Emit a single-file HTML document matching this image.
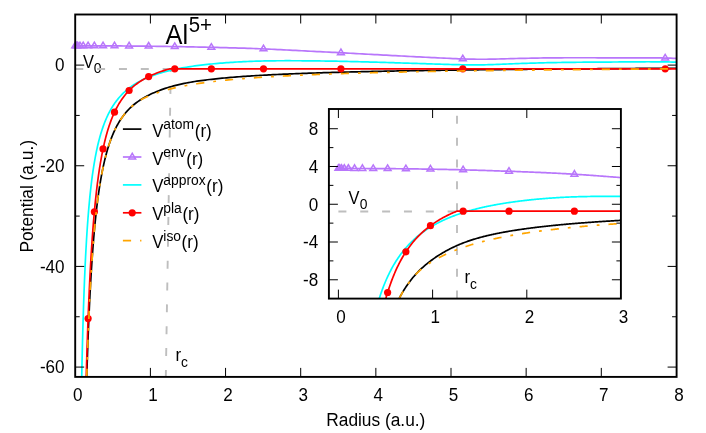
<!DOCTYPE html><html><head><meta charset="utf-8"><style>html,body{margin:0;padding:0;background:#fff}svg{display:block;will-change:transform}text{font-family:"Liberation Sans",sans-serif;fill:#000}</style></head><body>
<svg width="706" height="433" viewBox="0 0 706 433">
<rect width="100%" height="100%" fill="#fff"/>
<defs><clipPath id="cm"><rect x="75.20" y="14.50" width="601.40" height="362.40"/></clipPath><clipPath id="ci"><rect x="328.90" y="109.00" width="292.00" height="189.60"/></clipPath></defs>
<text transform="translate(83.00,67.70) scale(0.950,1.078)" font-size="17.33" text-anchor="start">V</text>
<text transform="translate(93.65,73.20) scale(1.000,1.060)" font-size="13.86" text-anchor="start">0</text>
<text transform="translate(175.40,361.00) scale(0.980,1.078)" font-size="17.33" text-anchor="start">r</text>
<text transform="translate(180.90,366.70) scale(1.000,1.060)" font-size="13.86" text-anchor="start">c</text>
<g clip-path="url(#cm)" fill="none" stroke-linejoin="round"><path d="M75.25,68.97 L169.94,68.97" stroke="#bebebe" stroke-width="1.9" stroke-dasharray="8 13.85"/><path d="M165.80,377.90 L170.80,68.82" stroke="#bebebe" stroke-width="1.9" stroke-dasharray="8 13.85"/></g>
<g clip-path="url(#cm)" fill="none" stroke-linejoin="round"><path d="M79.54,1060.06 L79.61,1042.69 L79.67,1025.59 L79.74,1008.78 L79.82,992.23 L79.89,975.96 L79.96,959.95 L80.03,944.20 L80.11,928.70 L80.19,913.46 L80.26,898.47 L80.34,883.72 L80.42,869.21 L80.51,854.94 L80.59,840.91 L80.67,827.10 L80.76,813.52 L80.85,800.17 L80.93,787.03 L81.02,774.11 L81.11,761.41 L81.21,748.91 L81.30,736.62 L81.40,724.54 L81.49,712.66 L81.59,700.97 L81.69,689.48 L81.79,678.18 L81.90,667.07 L82.00,656.14 L82.11,645.40 L82.22,634.84 L82.33,624.45 L82.44,614.24 L82.55,604.20 L82.67,594.33 L82.78,584.63 L82.90,575.10 L83.02,565.72 L83.14,556.50 L83.27,547.45 L83.40,538.54 L83.52,529.79 L83.65,521.19 L83.79,512.73 L83.92,504.42 L84.06,496.25 L84.20,488.23 L84.34,480.34 L84.48,472.59 L84.63,464.97 L84.78,457.49 L84.93,450.13 L85.08,442.91 L85.23,435.81 L85.39,428.83 L85.55,421.98 L85.71,415.25 L85.88,408.63 L86.05,402.13 L86.22,395.75 L86.39,389.48 L86.56,383.32 L86.74,377.27 L86.92,371.33 L87.11,365.50 L87.30,359.76 L87.49,354.14 L87.68,348.61 L87.87,343.18 L88.07,337.85 L88.28,332.61 L88.48,327.47 L88.69,322.43 L88.90,317.47 L89.12,312.61 L89.34,307.83 L89.56,303.14 L89.78,298.54 L90.01,294.02 L90.25,289.58 L90.48,285.23 L90.72,280.95 L90.97,276.76 L91.21,272.64 L91.47,268.60 L91.72,264.63 L91.98,260.74 L92.24,256.92 L92.51,253.17 L92.79,249.49 L93.06,245.88 L93.34,242.34 L93.63,238.86 L93.92,235.45 L94.21,232.10 L94.51,228.82 L94.82,225.60 L95.12,222.44 L95.44,219.34 L95.76,216.29 L96.08,213.31 L96.41,210.38 L96.74,207.51 L97.08,204.69 L97.42,201.93 L97.77,199.22 L98.13,196.56 L98.49,193.96 L98.86,191.40 L99.23,188.89 L99.61,186.43 L99.99,184.02 L100.38,181.66 L100.78,179.34 L101.18,177.06 L101.59,174.83 L102.00,172.64 L102.43,170.50 L102.86,168.40 L103.29,166.34 L103.73,164.31 L104.18,162.33 L104.64,160.39 L105.10,158.49 L105.57,156.62 L106.05,154.79 L106.54,153.00 L107.03,151.24 L107.53,149.51 L108.04,147.83 L108.56,146.17 L109.08,144.55 L109.62,142.96 L110.16,141.40 L110.71,139.87 L111.27,138.38 L111.84,136.91 L112.41,135.48 L113.00,134.07 L113.59,132.70 L114.20,131.35 L114.81,130.03 L115.44,128.73 L116.07,127.47 L116.72,126.23 L117.37,125.01 L118.03,123.82 L118.71,122.66 L119.39,121.52 L120.09,120.40 L120.80,119.31 L121.52,118.25 L122.25,117.20 L122.99,116.18 L123.74,115.18 L124.50,114.20 L125.28,113.24 L126.07,112.31 L126.87,111.39 L127.69,110.50 L128.51,109.62 L129.35,108.77 L130.21,107.93 L131.07,107.11 L131.95,106.31 L132.85,105.52 L133.76,104.76 L134.68,104.01 L135.62,103.27 L136.57,102.55 L137.53,101.85 L138.52,101.16 L139.51,100.48 L140.53,99.81 L141.56,99.16 L142.60,98.52 L143.67,97.89 L144.74,97.28 L145.84,96.67 L146.95,96.07 L148.08,95.49 L149.23,94.91 L150.40,94.34 L152.51,93.35 L154.63,92.41 L156.74,91.52 L158.85,90.68 L160.96,89.88 L163.08,89.12 L165.19,88.39 L167.30,87.71 L169.41,87.06 L171.53,86.45 L173.64,85.87 L175.75,85.32 L177.86,84.80 L179.98,84.31 L182.09,83.85 L184.20,83.41 L186.32,83.00 L188.43,82.60 L190.54,82.23 L192.65,81.87 L194.77,81.53 L196.88,81.21 L198.99,80.90 L201.10,80.61 L203.22,80.32 L205.33,80.05 L207.44,79.78 L209.55,79.53 L211.67,79.29 L213.78,79.05 L215.89,78.83 L218.00,78.61 L220.12,78.40 L222.23,78.19 L224.34,77.99 L226.46,77.80 L228.57,77.62 L230.68,77.43 L232.79,77.26 L234.91,77.09 L237.02,76.93 L239.13,76.77 L241.24,76.61 L243.36,76.46 L245.47,76.31 L247.58,76.17 L249.69,76.03 L251.81,75.89 L253.92,75.76 L256.03,75.63 L258.15,75.51 L260.26,75.38 L262.37,75.26 L264.48,75.15 L266.60,75.03 L268.71,74.92 L270.82,74.81 L272.93,74.71 L275.05,74.60 L277.16,74.50 L279.27,74.40 L281.38,74.30 L283.50,74.21 L285.61,74.12 L287.72,74.03 L289.83,73.94 L291.95,73.85 L294.06,73.76 L296.17,73.68 L298.29,73.60 L300.40,73.52 L302.51,73.44 L304.62,73.36 L306.74,73.28 L308.85,73.21 L310.96,73.13 L313.07,73.06 L315.19,72.99 L317.30,72.92 L319.41,72.85 L321.52,72.79 L323.64,72.72 L325.75,72.66 L327.86,72.59 L329.98,72.53 L332.09,72.47 L334.20,72.41 L336.31,72.35 L338.43,72.29 L340.54,72.23 L342.65,72.18 L344.76,72.12 L346.88,72.07 L348.99,72.01 L351.10,71.96 L353.21,71.91 L355.33,71.86 L357.44,71.80 L359.55,71.75 L361.67,71.71 L363.78,71.66 L365.89,71.61 L368.00,71.56 L370.12,71.52 L372.23,71.47 L374.34,71.42 L376.45,71.38 L378.57,71.34 L380.68,71.29 L382.79,71.25 L384.90,71.21 L387.02,71.17 L389.13,71.13 L391.24,71.09 L393.35,71.05 L395.47,71.01 L397.58,70.97 L399.69,70.93 L401.81,70.89 L403.92,70.85 L406.03,70.82 L408.14,70.78 L410.26,70.75 L412.37,70.71 L414.48,70.68 L416.59,70.64 L418.71,70.61 L420.82,70.57 L422.93,70.54 L425.04,70.51 L427.16,70.47 L429.27,70.44 L431.38,70.41 L433.50,70.38 L435.61,70.35 L437.72,70.32 L439.83,70.29 L441.95,70.26 L444.06,70.23 L446.17,70.20 L448.28,70.17 L450.40,70.14 L452.51,70.11 L454.62,70.09 L456.73,70.06 L458.85,70.03 L460.96,70.00 L463.07,69.98 L465.18,69.95 L467.30,69.92 L469.41,69.90 L471.52,69.87 L473.64,69.85 L475.75,69.82 L477.86,69.80 L479.97,69.77 L482.09,69.75 L484.20,69.72 L486.31,69.70 L488.42,69.68 L490.54,69.65 L492.65,69.63 L494.76,69.61 L496.87,69.59 L498.99,69.56 L501.10,69.54 L503.21,69.52 L505.33,69.50 L507.44,69.48 L509.55,69.45 L511.66,69.43 L513.78,69.41 L515.89,69.39 L518.00,69.37 L520.11,69.35 L522.23,69.33 L524.34,69.31 L526.45,69.29 L528.56,69.27 L530.68,69.25 L532.79,69.23 L534.90,69.21 L537.02,69.20 L539.13,69.18 L541.24,69.16 L543.35,69.14 L545.47,69.12 L547.58,69.10 L549.69,69.09 L551.80,69.07 L553.92,69.05 L556.03,69.03 L558.14,69.02 L560.25,69.00 L562.37,68.98 L564.48,68.97 L566.59,68.95 L568.70,68.93 L570.82,68.92 L572.93,68.90 L575.04,68.88 L577.16,68.87 L579.27,68.85 L581.38,68.84 L583.49,68.82 L585.61,68.81 L587.72,68.79 L589.83,68.78 L591.94,68.76 L594.06,68.75 L596.17,68.73 L598.28,68.72 L600.39,68.70 L602.51,68.69 L604.62,68.67 L606.73,68.66 L608.85,68.64 L610.96,68.63 L613.07,68.62 L615.18,68.60 L617.30,68.59 L619.41,68.58 L621.52,68.56 L623.63,68.55 L625.75,68.54 L627.86,68.52 L629.97,68.51 L632.08,68.50 L634.20,68.48 L636.31,68.47 L638.42,68.46 L640.53,68.45 L642.65,68.43 L644.76,68.42 L646.87,68.41 L648.99,68.40 L651.10,68.38 L653.21,68.37 L655.32,68.36 L657.44,68.35 L659.55,68.34 L661.66,68.32 L663.77,68.31 L665.89,68.30 L668.00,68.29 L670.11,68.28 L672.22,68.27 L674.34,68.26 L676.45,68.25" stroke="#000" stroke-width="1.70"/></g>
<g clip-path="url(#cm)" fill="none" stroke-linejoin="round"><path d="M75.25,45.82 L78.27,45.83 L81.29,45.83 L84.31,45.84 L87.33,45.84 L90.36,45.85 L93.38,45.85 L96.40,45.86 L99.42,45.87 L102.44,45.88 L105.46,45.89 L108.48,45.90 L111.50,45.92 L114.52,45.93 L117.55,45.95 L120.57,45.97 L123.59,45.99 L126.61,46.01 L129.63,46.03 L132.65,46.05 L135.67,46.08 L138.69,46.10 L141.71,46.13 L144.74,46.16 L147.76,46.20 L150.78,46.23 L153.80,46.27 L156.82,46.31 L159.84,46.35 L162.86,46.39 L165.88,46.43 L168.90,46.48 L171.93,46.53 L174.95,46.58 L177.97,46.63 L180.99,46.69 L184.01,46.75 L187.03,46.81 L190.05,46.87 L193.07,46.93 L196.09,46.99 L199.12,47.06 L202.14,47.12 L205.16,47.19 L208.18,47.26 L211.20,47.33 L214.22,47.40 L217.24,47.47 L220.26,47.55 L223.28,47.62 L226.31,47.70 L229.33,47.78 L232.35,47.86 L235.37,47.95 L238.39,48.03 L241.41,48.12 L244.43,48.22 L247.45,48.32 L250.47,48.42 L253.50,48.52 L256.52,48.63 L259.54,48.75 L262.56,48.87 L265.58,49.00 L268.60,49.13 L271.62,49.26 L274.64,49.40 L277.66,49.55 L280.69,49.69 L283.71,49.84 L286.73,49.99 L289.75,50.14 L292.77,50.30 L295.79,50.45 L298.81,50.61 L301.83,50.76 L304.85,50.92 L307.88,51.07 L310.90,51.23 L313.92,51.38 L316.94,51.53 L319.96,51.69 L322.98,51.84 L326.00,52.00 L329.02,52.15 L332.04,52.31 L335.07,52.46 L338.09,52.62 L341.11,52.78 L344.13,52.94 L347.15,53.10 L350.17,53.26 L353.19,53.42 L356.21,53.58 L359.23,53.74 L362.26,53.91 L365.28,54.07 L368.30,54.23 L371.32,54.39 L374.34,54.56 L377.36,54.72 L380.38,54.88 L383.40,55.05 L386.42,55.21 L389.44,55.37 L392.47,55.53 L395.49,55.70 L398.51,55.86 L401.53,56.02 L404.55,56.18 L407.57,56.33 L410.59,56.49 L413.61,56.65 L416.63,56.80 L419.66,56.96 L422.68,57.11 L425.70,57.26 L428.72,57.41 L431.74,57.56 L434.76,57.70 L437.78,57.85 L440.80,57.99 L443.82,58.13 L446.85,58.27 L449.87,58.41 L452.89,58.54 L455.91,58.67 L458.93,58.79 L461.95,58.91 L464.97,59.01 L467.99,59.10 L471.01,59.17 L474.04,59.22 L477.06,59.25 L480.08,59.26 L483.10,59.25 L486.12,59.23 L489.14,59.19 L492.16,59.14 L495.18,59.08 L498.20,59.01 L501.23,58.94 L504.25,58.86 L507.27,58.77 L510.29,58.69 L513.31,58.60 L516.33,58.52 L519.35,58.44 L522.37,58.36 L525.39,58.29 L528.42,58.23 L531.44,58.17 L534.46,58.11 L537.48,58.06 L540.50,58.01 L543.52,57.97 L546.54,57.93 L549.56,57.89 L552.58,57.86 L555.61,57.83 L558.63,57.81 L561.65,57.79 L564.67,57.77 L567.69,57.76 L570.71,57.75 L573.73,57.75 L576.75,57.74 L579.77,57.74 L582.80,57.75 L585.82,57.75 L588.84,57.76 L591.86,57.76 L594.88,57.77 L597.90,57.78 L600.92,57.78 L603.94,57.79 L606.96,57.80 L609.99,57.80 L613.01,57.80 L616.03,57.80 L619.05,57.80 L622.07,57.80 L625.09,57.79 L628.11,57.79 L631.13,57.78 L634.15,57.78 L637.18,57.78 L640.20,57.78 L643.22,57.79 L646.24,57.80 L649.26,57.82 L652.28,57.85 L655.30,57.88 L658.32,57.92 L661.34,57.97 L664.37,58.04 L667.39,58.11 L670.41,58.19 L673.43,58.29 L676.45,58.41" stroke="#b876fb" stroke-width="1.70"/></g>
<path d="M75.25,42.12 L71.85,47.72 L78.65,47.72 Z" fill="none" stroke="#b876fb" stroke-width="1.5" stroke-linejoin="miter"/>
<path d="M76.30,42.12 L72.90,47.72 L79.70,47.72 Z" fill="none" stroke="#b876fb" stroke-width="1.5" stroke-linejoin="miter"/>
<path d="M77.73,42.13 L74.33,47.73 L81.13,47.73 Z" fill="none" stroke="#b876fb" stroke-width="1.5" stroke-linejoin="miter"/>
<path d="M79.98,42.13 L76.58,47.73 L83.38,47.73 Z" fill="none" stroke="#b876fb" stroke-width="1.5" stroke-linejoin="miter"/>
<path d="M83.22,42.13 L79.82,47.73 L86.62,47.73 Z" fill="none" stroke="#b876fb" stroke-width="1.5" stroke-linejoin="miter"/>
<path d="M88.10,42.14 L84.70,47.74 L91.50,47.74 Z" fill="none" stroke="#b876fb" stroke-width="1.5" stroke-linejoin="miter"/>
<path d="M94.38,42.16 L90.98,47.76 L97.78,47.76 Z" fill="none" stroke="#b876fb" stroke-width="1.5" stroke-linejoin="miter"/>
<path d="M103.06,42.18 L99.66,47.78 L106.46,47.78 Z" fill="none" stroke="#b876fb" stroke-width="1.5" stroke-linejoin="miter"/>
<path d="M114.52,42.23 L111.12,47.83 L117.92,47.83 Z" fill="none" stroke="#b876fb" stroke-width="1.5" stroke-linejoin="miter"/>
<path d="M129.09,42.32 L125.69,47.92 L132.49,47.92 Z" fill="none" stroke="#b876fb" stroke-width="1.5" stroke-linejoin="miter"/>
<path d="M148.67,42.51 L145.27,48.11 L152.07,48.11 Z" fill="none" stroke="#b876fb" stroke-width="1.5" stroke-linejoin="miter"/>
<path d="M174.75,42.88 L171.35,48.48 L178.15,48.48 Z" fill="none" stroke="#b876fb" stroke-width="1.5" stroke-linejoin="miter"/>
<path d="M211.35,43.64 L207.95,49.24 L214.75,49.24 Z" fill="none" stroke="#b876fb" stroke-width="1.5" stroke-linejoin="miter"/>
<path d="M263.50,45.21 L260.10,50.81 L266.90,50.81 Z" fill="none" stroke="#b876fb" stroke-width="1.5" stroke-linejoin="miter"/>
<path d="M340.91,49.07 L337.51,54.67 L344.31,54.67 Z" fill="none" stroke="#b876fb" stroke-width="1.5" stroke-linejoin="miter"/>
<path d="M462.80,55.24 L459.40,60.84 L466.20,60.84 Z" fill="none" stroke="#b876fb" stroke-width="1.5" stroke-linejoin="miter"/>
<path d="M665.18,54.35 L661.78,59.95 L668.58,59.95 Z" fill="none" stroke="#b876fb" stroke-width="1.5" stroke-linejoin="miter"/>
<g clip-path="url(#cm)" fill="none" stroke-linejoin="round"><path d="M77.31,1057.97 L77.34,1042.52 L77.37,1027.30 L77.40,1012.32 L77.44,997.57 L77.47,983.05 L77.51,968.76 L77.54,954.68 L77.58,940.83 L77.62,927.18 L77.65,913.75 L77.69,900.53 L77.73,887.51 L77.77,874.69 L77.81,862.07 L77.85,849.65 L77.89,837.41 L77.93,825.37 L77.97,813.51 L78.02,801.84 L78.06,790.35 L78.10,779.03 L78.15,767.89 L78.20,756.92 L78.24,746.12 L78.29,735.48 L78.34,725.01 L78.39,714.71 L78.44,704.56 L78.49,694.56 L78.54,684.73 L78.59,675.04 L78.64,665.50 L78.69,656.11 L78.75,646.87 L78.80,637.76 L78.86,628.80 L78.92,619.97 L78.97,611.29 L79.03,602.73 L79.09,594.31 L79.15,586.01 L79.22,577.85 L79.28,569.81 L79.34,561.89 L79.41,554.09 L79.47,546.42 L79.54,538.86 L79.61,531.42 L79.67,524.09 L79.74,516.87 L79.82,509.77 L79.89,502.77 L79.96,495.89 L80.03,489.10 L80.11,482.43 L80.19,475.85 L80.26,469.37 L80.34,463.00 L80.42,456.72 L80.51,450.54 L80.59,444.45 L80.67,438.45 L80.76,432.55 L80.85,426.74 L80.93,421.01 L81.02,415.37 L81.11,409.82 L81.21,404.36 L81.30,398.97 L81.40,393.67 L81.49,388.45 L81.59,383.31 L81.69,378.25 L81.79,373.27 L81.90,368.36 L82.00,363.52 L82.11,358.76 L82.22,354.07 L82.33,349.45 L82.44,344.90 L82.55,340.43 L82.67,336.01 L82.78,331.67 L82.90,327.39 L83.02,323.18 L83.14,319.03 L83.27,314.94 L83.40,310.92 L83.52,306.95 L83.65,303.05 L83.79,299.20 L83.92,295.41 L84.06,291.68 L84.20,288.01 L84.34,284.39 L84.48,280.82 L84.63,277.31 L84.78,273.85 L84.93,270.45 L85.08,267.09 L85.23,263.79 L85.39,260.53 L85.55,257.32 L85.71,254.16 L85.88,251.05 L86.05,247.99 L86.22,244.97 L86.39,241.99 L86.56,239.06 L86.74,236.18 L86.92,233.33 L87.11,230.53 L87.30,227.78 L87.49,225.06 L87.68,222.38 L87.87,219.74 L88.07,217.14 L88.28,214.58 L88.48,212.06 L88.69,209.58 L88.90,207.13 L89.12,204.72 L89.34,202.34 L89.56,200.00 L89.78,197.70 L90.01,195.42 L90.25,193.18 L90.48,190.98 L90.72,188.81 L90.97,186.67 L91.21,184.56 L91.47,182.48 L91.72,180.43 L91.98,178.41 L92.24,176.43 L92.51,174.47 L92.79,172.54 L93.06,170.64 L93.34,168.76 L93.63,166.92 L93.92,165.10 L94.21,163.31 L94.51,161.54 L94.82,159.80 L95.12,158.09 L95.44,156.40 L95.76,154.74 L96.08,153.10 L96.41,151.48 L96.74,149.89 L97.08,148.32 L97.42,146.78 L97.77,145.25 L98.13,143.75 L98.49,142.27 L98.86,140.82 L99.23,139.38 L99.61,137.97 L99.99,136.58 L100.38,135.20 L100.78,133.85 L101.18,132.52 L101.59,131.20 L102.00,129.91 L102.43,128.64 L102.86,127.38 L103.29,126.14 L103.73,124.92 L104.18,123.72 L104.64,122.54 L105.10,121.37 L105.57,120.23 L106.05,119.09 L106.54,117.98 L107.03,116.88 L107.53,115.80 L108.04,114.73 L108.56,113.68 L109.08,112.65 L109.62,111.63 L110.16,110.63 L110.71,109.64 L111.27,108.67 L111.84,107.71 L112.41,106.76 L113.00,105.83 L113.59,104.91 L114.20,104.01 L114.81,103.12 L115.44,102.25 L116.07,101.38 L116.72,100.54 L117.37,99.70 L118.03,98.88 L118.71,98.06 L119.39,97.27 L120.09,96.48 L120.80,95.71 L121.52,94.94 L122.25,94.19 L122.99,93.45 L123.74,92.72 L124.50,92.01 L125.28,91.30 L126.07,90.61 L126.87,89.92 L127.69,89.25 L128.51,88.59 L129.35,87.94 L130.21,87.30 L131.07,86.66 L131.95,86.04 L132.85,85.43 L133.76,84.83 L134.68,84.24 L135.62,83.65 L136.57,83.08 L137.53,82.51 L138.52,81.96 L139.51,81.41 L140.53,80.88 L141.56,80.35 L142.60,79.83 L143.67,79.32 L144.74,78.81 L145.84,78.32 L146.95,77.83 L148.08,77.35 L149.23,76.88 L150.40,76.42 L152.51,75.62 L154.63,74.87 L156.74,74.15 L158.85,73.48 L160.96,72.84 L163.08,72.23 L165.19,71.65 L167.30,71.11 L169.41,70.59 L171.53,70.09 L173.64,69.62 L175.75,69.17 L177.86,68.75 L179.98,68.34 L182.09,67.95 L184.20,67.58 L186.32,67.22 L188.43,66.88 L190.54,66.56 L192.65,66.25 L194.77,65.95 L196.88,65.67 L198.99,65.40 L201.10,65.13 L203.22,64.88 L205.33,64.64 L207.44,64.41 L209.55,64.19 L211.67,63.98 L213.78,63.77 L215.89,63.58 L218.00,63.39 L220.12,63.21 L222.23,63.04 L224.34,62.87 L226.46,62.71 L228.57,62.56 L230.68,62.42 L232.79,62.28 L234.91,62.15 L237.02,62.02 L239.13,61.90 L241.24,61.79 L243.36,61.68 L245.47,61.58 L247.58,61.49 L249.69,61.40 L251.81,61.32 L253.92,61.24 L256.03,61.17 L258.15,61.10 L260.26,61.04 L262.37,60.99 L264.48,60.94 L266.60,60.90 L268.71,60.86 L270.82,60.83 L272.93,60.80 L275.05,60.78 L277.16,60.76 L279.27,60.75 L281.38,60.74 L283.50,60.73 L285.61,60.72 L287.72,60.72 L289.83,60.72 L291.95,60.73 L294.06,60.74 L296.17,60.75 L298.29,60.76 L300.40,60.77 L302.51,60.78 L304.62,60.80 L306.74,60.82 L308.85,60.84 L310.96,60.86 L313.07,60.88 L315.19,60.90 L317.30,60.93 L319.41,60.96 L321.52,60.98 L323.64,61.01 L325.75,61.04 L327.86,61.08 L329.98,61.11 L332.09,61.15 L334.20,61.18 L336.31,61.22 L338.43,61.26 L340.54,61.30 L342.65,61.35 L344.76,61.39 L346.88,61.44 L348.99,61.49 L351.10,61.53 L353.21,61.58 L355.33,61.64 L357.44,61.69 L359.55,61.74 L361.67,61.80 L363.78,61.85 L365.89,61.91 L368.00,61.97 L370.12,62.03 L372.23,62.09 L374.34,62.15 L376.45,62.21 L378.57,62.27 L380.68,62.33 L382.79,62.39 L384.90,62.46 L387.02,62.52 L389.13,62.59 L391.24,62.65 L393.35,62.72 L395.47,62.78 L397.58,62.85 L399.69,62.91 L401.81,62.98 L403.92,63.05 L406.03,63.11 L408.14,63.18 L410.26,63.25 L412.37,63.32 L414.48,63.38 L416.59,63.45 L418.71,63.52 L420.82,63.58 L422.93,63.65 L425.04,63.72 L427.16,63.78 L429.27,63.85 L431.38,63.91 L433.50,63.98 L435.61,64.04 L437.72,64.11 L439.83,64.17 L441.95,64.23 L444.06,64.30 L446.17,64.36 L448.28,64.42 L450.40,64.48 L452.51,64.54 L454.62,64.60 L456.73,64.65 L458.85,64.71 L460.96,64.75 L463.07,64.80 L465.18,64.84 L467.30,64.87 L469.41,64.89 L471.52,64.90 L473.64,64.91 L475.75,64.90 L477.86,64.89 L479.97,64.87 L482.09,64.83 L484.20,64.79 L486.31,64.75 L488.42,64.69 L490.54,64.63 L492.65,64.57 L494.76,64.50 L496.87,64.43 L498.99,64.35 L501.10,64.27 L503.21,64.19 L505.33,64.10 L507.44,64.02 L509.55,63.93 L511.66,63.85 L513.78,63.76 L515.89,63.68 L518.00,63.60 L520.11,63.52 L522.23,63.44 L524.34,63.37 L526.45,63.30 L528.56,63.23 L530.68,63.16 L532.79,63.10 L534.90,63.04 L537.02,62.98 L539.13,62.92 L541.24,62.87 L543.35,62.82 L545.47,62.77 L547.58,62.72 L549.69,62.67 L551.80,62.63 L553.92,62.59 L556.03,62.55 L558.14,62.51 L560.25,62.48 L562.37,62.45 L564.48,62.41 L566.59,62.38 L568.70,62.36 L570.82,62.33 L572.93,62.31 L575.04,62.29 L577.16,62.27 L579.27,62.25 L581.38,62.23 L583.49,62.21 L585.61,62.20 L587.72,62.18 L589.83,62.17 L591.94,62.15 L594.06,62.14 L596.17,62.13 L598.28,62.12 L600.39,62.10 L602.51,62.09 L604.62,62.08 L606.73,62.07 L608.85,62.05 L610.96,62.04 L613.07,62.02 L615.18,62.01 L617.30,61.99 L619.41,61.97 L621.52,61.95 L623.63,61.93 L625.75,61.91 L627.86,61.89 L629.97,61.87 L632.08,61.86 L634.20,61.84 L636.31,61.82 L638.42,61.81 L640.53,61.80 L642.65,61.79 L644.76,61.78 L646.87,61.77 L648.99,61.77 L651.10,61.78 L653.21,61.78 L655.32,61.79 L657.44,61.81 L659.55,61.82 L661.66,61.85 L663.77,61.88 L665.89,61.91 L668.00,61.95 L670.11,62.00 L672.22,62.05 L674.34,62.11 L676.45,62.18" stroke="#00ffff" stroke-width="1.70"/></g>
<g clip-path="url(#cm)" fill="none" stroke-linejoin="round"><path d="M79.47,1059.20 L79.54,1041.54 L79.61,1024.17 L79.67,1007.08 L79.74,990.26 L79.82,973.72 L79.89,957.44 L79.96,941.43 L80.03,925.68 L80.11,910.19 L80.19,894.94 L80.26,879.95 L80.34,865.20 L80.42,850.70 L80.51,836.43 L80.59,822.39 L80.67,808.59 L80.76,795.01 L80.85,781.65 L80.93,768.52 L81.02,755.60 L81.11,742.89 L81.21,730.40 L81.30,718.11 L81.40,706.03 L81.49,694.14 L81.59,682.46 L81.69,670.96 L81.79,659.66 L81.90,648.55 L82.00,637.63 L82.11,626.88 L82.22,616.32 L82.33,605.94 L82.44,595.73 L82.55,585.69 L82.67,575.82 L82.78,566.12 L82.90,556.58 L83.02,547.21 L83.14,537.99 L83.27,528.93 L83.40,520.03 L83.52,511.28 L83.65,502.68 L83.79,494.22 L83.92,485.91 L84.06,477.74 L84.20,469.72 L84.34,461.83 L84.48,454.08 L84.63,446.46 L84.78,438.98 L84.93,431.63 L85.08,424.40 L85.23,417.30 L85.39,410.32 L85.55,403.47 L85.71,396.74 L85.88,390.13 L86.05,383.63 L86.22,377.24 L86.39,370.98 L86.56,364.82 L86.74,358.77 L86.92,352.83 L87.11,346.99 L87.30,341.26 L87.49,335.63 L87.68,330.10 L87.87,324.68 L88.07,319.35 L88.28,314.11 L88.48,308.97 L88.69,303.93 L88.90,298.97 L89.12,294.11 L89.34,289.33 L89.56,284.64 L89.78,280.04 L90.01,275.52 L90.25,271.08 L90.48,266.73 L90.72,262.46 L90.97,258.26 L91.21,254.14 L91.47,250.10 L91.72,246.14 L91.98,242.24 L92.24,238.42 L92.51,234.67 L92.79,231.00 L93.06,227.39 L93.34,223.84 L93.63,220.37 L93.92,216.96 L94.21,213.61 L94.51,210.33 L94.82,207.11 L95.12,203.95 L95.44,200.85 L95.76,197.81 L96.08,194.82 L96.41,191.90 L96.74,189.03 L97.08,186.21 L97.42,183.45 L97.77,180.74 L98.13,178.08 L98.49,175.47 L98.86,172.92 L99.23,170.41 L99.61,167.95 L99.99,165.54 L100.38,163.18 L100.78,160.86 L101.18,158.59 L101.59,156.36 L102.00,154.17 L102.43,152.03 L102.86,149.93 L103.29,147.86 L103.73,145.84 L104.18,143.86 L104.64,141.92 L105.10,140.02 L105.57,138.15 L106.05,136.32 L106.54,134.53 L107.03,132.77 L107.53,131.05 L108.04,129.36 L108.56,127.71 L109.08,126.09 L109.62,124.50 L110.16,122.94 L110.71,121.41 L111.27,119.92 L111.84,118.45 L112.41,117.02 L113.00,115.61 L113.59,114.24 L114.20,112.89 L114.81,111.56 L115.44,110.27 L116.07,109.00 L116.72,107.76 L117.37,106.55 L118.03,105.35 L118.71,104.19 L119.39,103.05 L120.09,101.93 L120.80,100.84 L121.52,99.77 L122.25,98.72 L122.99,97.69 L123.74,96.69 L124.50,95.71 L125.28,94.74 L126.07,93.80 L126.87,92.88 L127.69,91.98 L128.51,91.10 L129.35,90.24 L130.21,89.39 L131.07,88.57 L131.95,87.76 L132.85,86.97 L133.76,86.19 L134.68,85.43 L135.62,84.69 L136.57,83.97 L137.53,83.25 L138.52,82.56 L139.51,81.88 L140.53,81.21 L141.56,80.55 L142.60,79.91 L143.67,79.28 L144.74,78.67 L145.84,78.06 L146.95,77.47 L148.08,76.89 L149.23,76.32 L150.40,75.77 L152.51,74.81 L154.63,73.91 L156.74,73.06 L158.85,72.27 L160.96,71.52 L163.08,70.82 L165.19,70.16 L167.30,69.54 L169.41,68.96 L169.92,68.83 L169.93,68.82 L169.94,68.82 L171.53,68.82 L173.64,68.82 L175.75,68.82 L177.86,68.82 L179.98,68.82 L182.09,68.82 L184.20,68.82 L186.32,68.82 L188.43,68.82 L190.54,68.82 L192.65,68.82 L194.77,68.82 L196.88,68.82 L198.99,68.82 L201.10,68.82 L203.22,68.82 L205.33,68.82 L207.44,68.82 L209.55,68.82 L211.67,68.82 L213.78,68.82 L215.89,68.82 L218.00,68.82 L220.12,68.82 L222.23,68.82 L224.34,68.82 L226.46,68.82 L228.57,68.82 L230.68,68.82 L232.79,68.82 L234.91,68.82 L237.02,68.82 L239.13,68.82 L241.24,68.82 L243.36,68.82 L245.47,68.82 L247.58,68.82 L249.69,68.82 L251.81,68.82 L253.92,68.82 L256.03,68.82 L258.15,68.82 L260.26,68.82 L262.37,68.82 L264.48,68.82 L266.60,68.82 L268.71,68.82 L270.82,68.82 L272.93,68.82 L275.05,68.82 L277.16,68.82 L279.27,68.82 L281.38,68.82 L283.50,68.82 L285.61,68.82 L287.72,68.82 L289.83,68.82 L291.95,68.82 L294.06,68.82 L296.17,68.82 L298.29,68.82 L300.40,68.82 L302.51,68.82 L304.62,68.82 L306.74,68.82 L308.85,68.82 L310.96,68.82 L313.07,68.82 L315.19,68.82 L317.30,68.82 L319.41,68.82 L321.52,68.82 L323.64,68.82 L325.75,68.82 L327.86,68.82 L329.98,68.82 L332.09,68.82 L334.20,68.82 L336.31,68.82 L338.43,68.82 L340.54,68.82 L342.65,68.82 L344.76,68.82 L346.88,68.82 L348.99,68.82 L351.10,68.82 L353.21,68.82 L355.33,68.82 L357.44,68.82 L359.55,68.82 L361.67,68.82 L363.78,68.82 L365.89,68.82 L368.00,68.82 L370.12,68.82 L372.23,68.82 L374.34,68.82 L376.45,68.82 L378.57,68.82 L380.68,68.82 L382.79,68.82 L384.90,68.82 L387.02,68.82 L389.13,68.82 L391.24,68.82 L393.35,68.82 L395.47,68.82 L397.58,68.82 L399.69,68.82 L401.81,68.82 L403.92,68.82 L406.03,68.82 L408.14,68.82 L410.26,68.82 L412.37,68.82 L414.48,68.82 L416.59,68.82 L418.71,68.82 L420.82,68.82 L422.93,68.82 L425.04,68.82 L427.16,68.82 L429.27,68.82 L431.38,68.82 L433.50,68.82 L435.61,68.82 L437.72,68.82 L439.83,68.82 L441.95,68.82 L444.06,68.82 L446.17,68.82 L448.28,68.82 L450.40,68.82 L452.51,68.82 L454.62,68.82 L456.73,68.82 L458.85,68.82 L460.96,68.82 L463.07,68.82 L465.18,68.82 L467.30,68.82 L469.41,68.82 L471.52,68.82 L473.64,68.82 L475.75,68.82 L477.86,68.82 L479.97,68.82 L482.09,68.82 L484.20,68.82 L486.31,68.82 L488.42,68.82 L490.54,68.82 L492.65,68.82 L494.76,68.82 L496.87,68.82 L498.99,68.82 L501.10,68.82 L503.21,68.82 L505.33,68.82 L507.44,68.82 L509.55,68.82 L511.66,68.82 L513.78,68.82 L515.89,68.82 L518.00,68.82 L520.11,68.82 L522.23,68.82 L524.34,68.82 L526.45,68.82 L528.56,68.82 L530.68,68.82 L532.79,68.82 L534.90,68.82 L537.02,68.82 L539.13,68.82 L541.24,68.82 L543.35,68.82 L545.47,68.82 L547.58,68.82 L549.69,68.82 L551.80,68.82 L553.92,68.82 L556.03,68.82 L558.14,68.82 L560.25,68.82 L562.37,68.82 L564.48,68.82 L566.59,68.82 L568.70,68.82 L570.82,68.82 L572.93,68.82 L575.04,68.82 L577.16,68.82 L579.27,68.82 L581.38,68.82 L583.49,68.82 L585.61,68.82 L587.72,68.82 L589.83,68.82 L591.94,68.82 L594.06,68.82 L596.17,68.82 L598.28,68.82 L600.39,68.82 L602.51,68.82 L604.62,68.82 L606.73,68.82 L608.85,68.82 L610.96,68.82 L613.07,68.82 L615.18,68.82 L617.30,68.82 L619.41,68.82 L621.52,68.82 L623.63,68.82 L625.75,68.82 L627.86,68.82 L629.97,68.82 L632.08,68.82 L634.20,68.82 L636.31,68.82 L638.42,68.82 L640.53,68.82 L642.65,68.82 L644.76,68.82 L646.87,68.82 L648.99,68.82 L651.10,68.82 L653.21,68.82 L655.32,68.82 L657.44,68.82 L659.55,68.82 L661.66,68.82 L663.77,68.82 L665.89,68.82 L668.00,68.82 L670.11,68.82 L672.22,68.82 L674.34,68.82 L676.45,68.82" stroke="#ff0000" stroke-width="1.70"/></g>
<circle cx="88.10" cy="318.62" r="3.60" fill="#ff0000"/>
<circle cx="94.38" cy="211.80" r="3.60" fill="#ff0000"/>
<circle cx="103.06" cy="148.97" r="3.60" fill="#ff0000"/>
<circle cx="114.52" cy="112.20" r="3.60" fill="#ff0000"/>
<circle cx="129.09" cy="90.50" r="3.60" fill="#ff0000"/>
<circle cx="148.67" cy="76.60" r="3.60" fill="#ff0000"/>
<circle cx="174.75" cy="68.82" r="3.60" fill="#ff0000"/>
<circle cx="211.35" cy="68.82" r="3.60" fill="#ff0000"/>
<circle cx="263.50" cy="68.82" r="3.60" fill="#ff0000"/>
<circle cx="340.91" cy="68.82" r="3.60" fill="#ff0000"/>
<circle cx="462.80" cy="68.82" r="3.60" fill="#ff0000"/>
<circle cx="665.18" cy="68.82" r="3.60" fill="#ff0000"/>
<g clip-path="url(#cm)" fill="none" stroke-linejoin="round"><path d="M86.75,376.90 L86.84,374.04 L86.93,371.20 L87.02,368.39 L87.10,365.60 L87.19,362.84 L87.28,360.10 L87.37,357.38 L87.47,354.69 L87.56,352.02 L87.65,349.38 L87.74,346.75 L87.84,344.15 L87.93,341.58 L88.03,339.02 L88.13,336.49 L88.22,333.97 L88.32,331.49 L88.42,329.02 L88.52,326.57 L88.62,324.15 L88.72,321.74 L88.82,319.36 L88.92,317.00 L89.03,314.66 L89.13,312.34 L89.23,310.04 L89.34,307.76 L89.45,305.50 L89.55,303.26 L89.66,301.04 L89.77,298.84 L89.88,296.66 L89.99,294.49 L90.10,292.35 L90.21,290.23 L90.32,288.12 L90.44,286.04 L90.55,283.97 L90.67,281.92 L90.78,279.89 L90.90,277.88 L91.02,275.88 L91.14,273.90 L91.26,271.94 L91.38,270.00 L91.50,268.08 L91.62,266.17 L91.74,264.28 L91.87,262.40 L91.99,260.55 L92.12,258.71 L92.25,256.88 L92.38,255.08 L92.50,253.28 L92.63,251.51 L92.77,249.75 L92.90,248.01 L93.03,246.28 L93.16,244.57 L93.30,242.87 L93.44,241.19 L93.57,239.53 L93.71,237.88 L93.85,236.24 L93.99,234.62 L94.13,233.01 L94.27,231.42 L94.42,229.85 L94.56,228.28 L94.71,226.73 L94.85,225.20 L95.00,223.68 L95.15,222.17 L95.30,220.68 L95.45,219.20 L95.60,217.74 L95.76,216.28 L95.91,214.85 L96.07,213.42 L96.22,212.01 L96.38,210.61 L96.54,209.22 L96.70,207.85 L96.86,206.49 L97.03,205.14 L97.19,203.80 L97.36,202.48 L97.52,201.17 L97.69,199.87 L97.86,198.58 L98.03,197.30 L98.20,196.04 L98.37,194.79 L98.55,193.55 L98.72,192.32 L98.90,191.10 L99.08,189.89 L99.26,188.70 L99.44,187.51 L99.62,186.34 L99.81,185.18 L99.99,184.03 L100.18,182.89 L100.36,181.76 L100.55,180.64 L100.74,179.53 L100.94,178.43 L101.13,177.34 L101.32,176.26 L101.52,175.20 L101.72,174.14 L101.92,173.09 L102.12,172.05 L102.32,171.02 L102.53,170.00 L102.73,169.00 L102.94,168.00 L103.15,167.01 L103.36,166.02 L103.57,165.05 L103.78,164.09 L104.00,163.14 L104.21,162.19 L104.43,161.26 L104.65,160.33 L104.87,159.41 L105.10,158.50 L105.32,157.60 L105.55,156.71 L105.78,155.83 L106.01,154.95 L106.24,154.09 L106.47,153.23 L106.71,152.38 L106.95,151.54 L107.18,150.70 L107.42,149.88 L107.67,149.06 L107.91,148.25 L108.16,147.45 L108.41,146.65 L108.66,145.86 L108.91,145.09 L109.16,144.31 L109.42,143.55 L109.67,142.79 L109.93,142.04 L110.19,141.30 L110.46,140.57 L110.72,139.84 L110.99,139.12 L111.26,138.40 L111.53,137.70 L111.80,137.00 L112.08,136.30 L112.36,135.62 L112.64,134.94 L112.92,134.26 L113.20,133.60 L113.49,132.94 L113.78,132.29 L114.07,131.64 L114.36,131.00 L114.65,130.37 L114.95,129.74 L115.25,129.12 L115.55,128.50 L115.86,127.89 L116.16,127.29 L116.47,126.69 L116.78,126.10 L117.09,125.52 L117.41,124.94 L117.73,124.37 L118.05,123.80 L118.37,123.24 L118.69,122.68 L119.02,122.13 L119.35,121.59 L119.68,121.05 L120.02,120.52 L120.36,119.99 L120.70,119.47 L121.04,118.95 L121.38,118.44 L121.73,117.93 L122.08,117.43 L122.43,116.94 L122.79,116.45 L123.15,115.96 L123.51,115.48 L123.87,115.01 L124.24,114.54 L124.61,114.07 L124.98,113.61 L125.35,113.16 L125.73,112.71 L126.11,112.26 L126.50,111.82 L126.88,111.38 L127.27,110.95 L127.66,110.52 L128.06,110.10 L128.46,109.68 L128.86,109.27 L129.26,108.86 L129.67,108.46 L130.08,108.06 L130.49,107.66 L130.91,107.27 L131.33,106.88 L131.75,106.50 L132.17,106.12 L132.60,105.75 L133.04,105.38 L133.47,105.01 L133.91,104.65 L134.35,104.30 L134.80,103.94 L135.25,103.60 L135.70,103.26 L136.15,102.92 L136.61,102.59 L137.07,102.26 L137.54,101.94 L138.01,101.62 L138.48,101.31 L138.96,101.00 L139.44,100.70 L139.92,100.40 L140.41,100.11 L140.90,99.82 L141.40,99.54 L141.89,99.27 L142.40,98.99 L142.90,98.73 L143.41,98.46 L143.93,98.20 L144.44,97.95 L144.96,97.69 L145.49,97.44 L146.02,97.19 L146.55,96.95 L147.09,96.71 L147.63,96.47 L148.18,96.23 L148.73,96.00 L149.28,95.76 L149.84,95.53 L150.40,95.30 L152.51,94.47 L154.63,93.69 L156.74,92.95 L158.85,92.25 L160.96,91.58 L163.08,90.94 L165.19,90.33 L167.30,89.75 L169.41,89.20 L171.53,88.67 L173.64,88.17 L175.75,87.68 L177.86,87.22 L179.98,86.77 L182.09,86.34 L184.20,85.93 L186.32,85.53 L188.43,85.15 L190.54,84.78 L192.65,84.43 L194.77,84.09 L196.88,83.76 L198.99,83.44 L201.10,83.13 L203.22,82.83 L205.33,82.55 L207.44,82.27 L209.55,82.00 L211.67,81.74 L213.78,81.48 L215.89,81.24 L218.00,81.00 L220.12,80.77 L222.23,80.54 L224.34,80.32 L226.46,80.11 L228.57,79.90 L230.68,79.70 L232.79,79.50 L234.91,79.31 L237.02,79.13 L239.13,78.95 L241.24,78.77 L243.36,78.60 L245.47,78.43 L247.58,78.27 L249.69,78.11 L251.81,77.95 L253.92,77.80 L256.03,77.65 L258.15,77.51 L260.26,77.37 L262.37,77.23 L264.48,77.09 L266.60,76.96 L268.71,76.83 L270.82,76.70 L272.93,76.58 L275.05,76.46 L277.16,76.34 L279.27,76.22 L281.38,76.11 L283.50,76.00 L285.61,75.89 L287.72,75.78 L289.83,75.68 L291.95,75.57 L294.06,75.47 L296.17,75.37 L298.29,75.27 L300.40,75.18 L302.51,75.09 L304.62,74.99 L306.74,74.90 L308.85,74.81 L310.96,74.73 L313.07,74.64 L315.19,74.56 L317.30,74.48 L319.41,74.39 L321.52,74.31 L323.64,74.24 L325.75,74.16 L327.86,74.08 L329.98,74.01 L332.09,73.94 L334.20,73.86 L336.31,73.79 L338.43,73.72 L340.54,73.65 L342.65,73.59 L344.76,73.52 L346.88,73.45 L348.99,73.39 L351.10,73.33 L353.21,73.26 L355.33,73.20 L357.44,73.14 L359.55,73.08 L361.67,73.02 L363.78,72.97 L365.89,72.91 L368.00,72.85 L370.12,72.80 L372.23,72.74 L374.34,72.69 L376.45,72.63 L378.57,72.58 L380.68,72.53 L382.79,72.48 L384.90,72.43 L387.02,72.38 L389.13,72.33 L391.24,72.28 L393.35,72.23 L395.47,72.19 L397.58,72.14 L399.69,72.09 L401.81,72.05 L403.92,72.00 L406.03,71.96 L408.14,71.92 L410.26,71.87 L412.37,71.83 L414.48,71.79 L416.59,71.75 L418.71,71.71 L420.82,71.67 L422.93,71.63 L425.04,71.59 L427.16,71.55 L429.27,71.51 L431.38,71.47 L433.50,71.43 L435.61,71.40 L437.72,71.36 L439.83,71.32 L441.95,71.29 L444.06,71.25 L446.17,71.22 L448.28,71.18 L450.40,71.15 L452.51,71.12 L454.62,71.08 L456.73,71.05 L458.85,71.02 L460.96,70.98 L463.07,70.95 L465.18,70.92 L467.30,70.89 L469.41,70.86 L471.52,70.83 L473.64,70.80 L475.75,70.77 L477.86,70.74 L479.97,70.71 L482.09,70.68 L484.20,70.65 L486.31,70.62 L488.42,70.59 L490.54,70.56 L492.65,70.54 L494.76,70.51 L496.87,70.48 L498.99,70.46 L501.10,70.43 L503.21,70.40 L505.33,70.38 L507.44,70.35 L509.55,70.33 L511.66,70.30 L513.78,70.28 L515.89,70.25 L518.00,70.23 L520.11,70.20 L522.23,70.18 L524.34,70.15 L526.45,70.13 L528.56,70.11 L530.68,70.08 L532.79,70.06 L534.90,70.04 L537.02,70.01 L539.13,69.99 L541.24,69.97 L543.35,69.95 L545.47,69.93 L547.58,69.90 L549.69,69.88 L551.80,69.86 L553.92,69.84 L556.03,69.82 L558.14,69.80 L560.25,69.78 L562.37,69.76 L564.48,69.74 L566.59,69.72 L568.70,69.70 L570.82,69.68 L572.93,69.66 L575.04,69.64 L577.16,69.62 L579.27,69.60 L581.38,69.58 L583.49,69.57 L585.61,69.55 L587.72,69.53 L589.83,69.51 L591.94,69.49 L594.06,69.47 L596.17,69.46 L598.28,69.44 L600.39,69.42 L602.51,69.40 L604.62,69.39 L606.73,69.37 L608.85,69.35 L610.96,69.34 L613.07,69.32 L615.18,69.30 L617.30,69.29 L619.41,69.27 L621.52,69.25 L623.63,69.24 L625.75,69.22 L627.86,69.21 L629.97,69.19 L632.08,69.18 L634.20,69.16 L636.31,69.14 L638.42,69.13 L640.53,69.11 L642.65,69.10 L644.76,69.08 L646.87,69.07 L648.99,69.06 L651.10,69.04 L653.21,69.03 L655.32,69.01 L657.44,69.00 L659.55,68.98 L661.66,68.97 L663.77,68.96 L665.89,68.94 L668.00,68.93 L670.11,68.91 L672.22,68.90 L674.34,68.89 L676.45,68.87" stroke="#ffa500" stroke-width="1.70" stroke-dasharray="8.2 9.0 2.8 9.0"/></g>
<rect x="75.20" y="14.50" width="601.40" height="362.40" fill="none" stroke="#000" stroke-width="1.9"/>
<path d="M150.40,376.90 v-9 M150.40,14.50 v9 M225.55,376.90 v-9 M225.55,14.50 v9 M300.70,376.90 v-9 M300.70,14.50 v9 M375.85,376.90 v-9 M375.85,14.50 v9 M451.00,376.90 v-9 M451.00,14.50 v9 M526.15,376.90 v-9 M526.15,14.50 v9 M601.30,376.90 v-9 M601.30,14.50 v9 M75.20,65.10 h9 M676.60,65.10 h-9 M75.20,165.76 h9 M676.60,165.76 h-9 M75.20,266.42 h9 M676.60,266.42 h-9 M75.20,367.08 h9 M676.60,367.08 h-9 M75.20,115.43 h4.5 M676.60,115.43 h-4.5 M75.20,216.09 h4.5 M676.60,216.09 h-4.5 M75.20,316.75 h4.5 M676.60,316.75 h-4.5" stroke="#000" stroke-width="1" fill="none"/>
<text transform="translate(77.75,400.60) scale(0.985,1.078)" font-size="17.33" text-anchor="middle">0</text>
<text transform="translate(152.90,400.60) scale(0.985,1.078)" font-size="17.33" text-anchor="middle">1</text>
<text transform="translate(228.05,400.60) scale(0.985,1.078)" font-size="17.33" text-anchor="middle">2</text>
<text transform="translate(303.20,400.60) scale(0.985,1.078)" font-size="17.33" text-anchor="middle">3</text>
<text transform="translate(378.35,400.60) scale(0.985,1.078)" font-size="17.33" text-anchor="middle">4</text>
<text transform="translate(453.50,400.60) scale(0.985,1.078)" font-size="17.33" text-anchor="middle">5</text>
<text transform="translate(528.65,400.60) scale(0.985,1.078)" font-size="17.33" text-anchor="middle">6</text>
<text transform="translate(603.80,400.60) scale(0.985,1.078)" font-size="17.33" text-anchor="middle">7</text>
<text transform="translate(678.95,400.60) scale(0.985,1.078)" font-size="17.33" text-anchor="middle">8</text>
<text transform="translate(64.60,71.40) scale(0.985,1.078)" font-size="17.33" text-anchor="end">0</text>
<text transform="translate(64.60,172.06) scale(0.985,1.078)" font-size="17.33" text-anchor="end">-20</text>
<text transform="translate(64.60,272.72) scale(0.985,1.078)" font-size="17.33" text-anchor="end">-40</text>
<text transform="translate(64.60,373.38) scale(0.985,1.078)" font-size="17.33" text-anchor="end">-60</text>
<text transform="translate(375.80,426.20) scale(1.000,1.078)" font-size="17.33" text-anchor="middle">Radius (a.u.)</text>
<text transform="translate(32.90,196.30) rotate(-90) scale(1.000,1.078)" font-size="17.33" text-anchor="middle">Potential (a.u.)</text>
<text transform="translate(165.60,44.10) scale(0.977,1.055)" font-size="26.00" text-anchor="start">Al</text>
<text transform="translate(188.70,32.00) scale(0.980,1.075)" font-size="20.80" text-anchor="start">5+</text>
<path d="M122.9,129.10 H141.4" stroke="#000" stroke-width="1.70" fill="none"/>
<text transform="translate(152.30,136.60) scale(0.970,1.078)" font-size="17.33" text-anchor="start">V</text>
<text transform="translate(163.30,129.10) scale(1.000,1.050)" font-size="13.86" text-anchor="start">atom</text>
<text transform="translate(194.72,136.60) scale(0.985,1.078)" font-size="17.33" text-anchor="start">(r)</text>
<path d="M122.9,157.00 H141.4" stroke="#b876fb" stroke-width="1.70" fill="none"/>
<path d="M132.20,153.30 L128.80,158.90 L135.60,158.90 Z" fill="none" stroke="#b876fb" stroke-width="1.5" stroke-linejoin="miter"/>
<text transform="translate(152.30,164.50) scale(0.970,1.078)" font-size="17.33" text-anchor="start">V</text>
<text transform="translate(163.30,157.00) scale(1.000,1.050)" font-size="13.86" text-anchor="start">env</text>
<text transform="translate(186.25,164.50) scale(0.985,1.078)" font-size="17.33" text-anchor="start">(r)</text>
<path d="M122.9,184.90 H141.4" stroke="#00ffff" stroke-width="1.70" fill="none"/>
<text transform="translate(152.30,192.40) scale(0.970,1.078)" font-size="17.33" text-anchor="start">V</text>
<text transform="translate(163.30,184.90) scale(1.000,1.050)" font-size="13.86" text-anchor="start">approx</text>
<text transform="translate(206.29,192.40) scale(0.985,1.078)" font-size="17.33" text-anchor="start">(r)</text>
<path d="M122.9,212.80 H141.4" stroke="#ff0000" stroke-width="1.70" fill="none"/>
<circle cx="132.20" cy="212.80" r="3.60" fill="#ff0000"/>
<text transform="translate(152.30,220.30) scale(0.970,1.078)" font-size="17.33" text-anchor="start">V</text>
<text transform="translate(163.30,212.80) scale(1.000,1.050)" font-size="13.86" text-anchor="start">pla</text>
<text transform="translate(182.40,220.30) scale(0.985,1.078)" font-size="17.33" text-anchor="start">(r)</text>
<path d="M122.9,240.70 H141.4" stroke="#ffa500" stroke-width="1.70" fill="none" stroke-dasharray="8.2 9.0 2.8 9.0"/>
<text transform="translate(152.30,248.20) scale(0.970,1.078)" font-size="17.33" text-anchor="start">V</text>
<text transform="translate(163.30,240.70) scale(1.000,1.050)" font-size="13.86" text-anchor="start">iso</text>
<text transform="translate(181.62,248.20) scale(0.985,1.078)" font-size="17.33" text-anchor="start">(r)</text>
<rect x="328.90" y="109.00" width="292.00" height="189.60" fill="#fff"/>
<text transform="translate(348.60,203.75) scale(0.950,1.078)" font-size="17.33" text-anchor="start">V</text>
<text transform="translate(359.70,208.90) scale(1.000,1.060)" font-size="13.86" text-anchor="start">0</text>
<text transform="translate(464.50,283.40) scale(0.980,1.078)" font-size="17.33" text-anchor="start">r</text>
<text transform="translate(470.00,289.10) scale(1.000,1.060)" font-size="13.86" text-anchor="start">c</text>
<g clip-path="url(#ci)" fill="none" stroke-linejoin="round"><path d="M338.40,211.49 L457.09,211.49" stroke="#bebebe" stroke-width="1.9" stroke-dasharray="8 13.85"/><path d="M457.00,298.60 L457.00,109.00" stroke="#bebebe" stroke-width="1.9" stroke-dasharray="8 13.85"/></g>
<g clip-path="url(#ci)" fill="none" stroke-linejoin="round"><path d="M343.78,2070.77 L343.86,2038.18 L343.95,2006.12 L344.03,1974.58 L344.12,1943.55 L344.21,1913.02 L344.30,1882.99 L344.40,1853.45 L344.49,1824.39 L344.59,1795.80 L344.69,1767.68 L344.78,1740.02 L344.89,1712.81 L344.99,1686.05 L345.09,1659.72 L345.20,1633.83 L345.30,1608.36 L345.41,1583.31 L345.52,1558.67 L345.64,1534.44 L345.75,1510.61 L345.87,1487.17 L345.98,1464.13 L346.10,1441.46 L346.23,1419.17 L346.35,1397.25 L346.47,1375.70 L346.60,1354.50 L346.73,1333.66 L346.86,1313.17 L347.00,1293.02 L347.13,1273.21 L347.27,1253.73 L347.41,1234.58 L347.55,1215.75 L347.70,1197.24 L347.84,1179.05 L347.99,1161.16 L348.14,1143.57 L348.30,1126.29 L348.45,1109.30 L348.61,1092.60 L348.77,1076.18 L348.93,1060.04 L349.10,1044.19 L349.27,1028.60 L349.44,1013.28 L349.62,998.23 L349.79,983.43 L349.97,968.90 L350.15,954.61 L350.34,940.57 L350.53,926.78 L350.72,913.23 L350.91,899.91 L351.11,886.83 L351.31,873.97 L351.52,861.34 L351.72,848.94 L351.93,836.75 L352.15,824.78 L352.36,813.02 L352.58,801.47 L352.81,790.12 L353.03,778.97 L353.26,768.03 L353.50,757.28 L353.74,746.72 L353.98,736.35 L354.22,726.17 L354.47,716.17 L354.73,706.36 L354.98,696.72 L355.25,687.25 L355.51,677.96 L355.78,668.83 L356.06,659.87 L356.33,651.08 L356.62,642.44 L356.90,633.97 L357.20,625.65 L357.49,617.48 L357.79,609.46 L358.10,601.59 L358.41,593.87 L358.73,586.29 L359.05,578.85 L359.37,571.54 L359.70,564.38 L360.04,557.35 L360.38,550.45 L360.73,543.67 L361.08,537.03 L361.44,530.51 L361.80,524.11 L362.17,517.83 L362.54,511.67 L362.92,505.63 L363.31,499.70 L363.70,493.89 L364.10,488.18 L364.51,482.59 L364.92,477.09 L365.34,471.71 L365.76,466.43 L366.20,461.24 L366.63,456.16 L367.08,451.18 L367.53,446.29 L367.99,441.49 L368.46,436.79 L368.93,432.17 L369.41,427.65 L369.90,423.21 L370.40,418.86 L370.90,414.60 L371.42,410.41 L371.94,406.31 L372.47,402.29 L373.00,398.35 L373.55,394.48 L374.10,390.69 L374.67,386.97 L375.24,383.33 L375.82,379.76 L376.41,376.26 L377.01,372.82 L377.62,369.46 L378.24,366.16 L378.86,362.93 L379.50,359.76 L380.15,356.66 L380.81,353.61 L381.48,350.63 L382.16,347.71 L382.85,344.85 L383.55,342.04 L384.26,339.30 L384.98,336.60 L385.72,333.97 L386.46,331.39 L387.22,328.86 L387.99,326.38 L388.78,323.95 L389.57,321.57 L390.38,319.25 L391.20,316.97 L392.03,314.74 L392.87,312.56 L393.73,310.42 L394.61,308.33 L395.49,306.28 L396.39,304.28 L397.31,302.32 L398.24,300.41 L399.18,298.53 L400.14,296.70 L401.11,294.90 L402.10,293.15 L403.11,291.43 L404.13,289.75 L405.16,288.11 L406.22,286.50 L407.29,284.93 L408.37,283.40 L409.48,281.89 L410.60,280.42 L411.74,278.98 L412.89,277.57 L414.07,276.19 L415.26,274.84 L416.47,273.52 L417.70,272.23 L418.95,270.96 L420.23,269.71 L421.52,268.49 L422.83,267.29 L424.16,266.11 L425.51,264.95 L426.88,263.81 L428.28,262.69 L429.70,261.59 L431.14,260.51 L432.60,259.44 L433.36,258.90 L434.11,258.37 L434.87,257.84 L435.63,257.33 L436.38,256.82 L437.14,256.32 L437.90,255.83 L438.65,255.34 L439.41,254.87 L440.17,254.40 L440.92,253.93 L441.68,253.47 L442.44,253.02 L443.19,252.58 L443.95,252.14 L444.71,251.71 L445.46,251.28 L446.22,250.87 L446.98,250.45 L447.73,250.05 L448.49,249.65 L449.25,249.25 L450.00,248.86 L450.76,248.48 L451.52,248.10 L452.27,247.73 L453.03,247.37 L453.79,247.01 L454.54,246.65 L455.30,246.30 L456.06,245.96 L456.81,245.62 L457.57,245.29 L458.33,244.96 L459.08,244.64 L459.84,244.32 L460.60,244.01 L461.35,243.70 L462.11,243.40 L462.87,243.10 L463.62,242.81 L464.38,242.52 L465.13,242.24 L465.89,241.96 L466.65,241.69 L467.40,241.42 L468.16,241.15 L468.92,240.89 L469.67,240.63 L470.43,240.38 L471.19,240.13 L471.94,239.89 L472.70,239.64 L473.46,239.41 L474.21,239.17 L474.97,238.94 L475.73,238.72 L476.48,238.49 L477.24,238.27 L478.00,238.06 L478.75,237.85 L479.51,237.64 L480.27,237.43 L481.02,237.22 L481.78,237.02 L482.54,236.83 L483.29,236.63 L484.05,236.44 L484.81,236.25 L485.56,236.06 L486.32,235.88 L487.08,235.69 L487.83,235.51 L488.59,235.34 L489.35,235.16 L490.10,234.99 L490.86,234.82 L491.62,234.65 L492.37,234.48 L493.13,234.32 L493.89,234.16 L494.64,234.00 L495.40,233.84 L496.16,233.68 L496.91,233.53 L497.67,233.37 L498.43,233.22 L499.18,233.07 L499.94,232.93 L500.70,232.78 L501.45,232.64 L502.21,232.49 L502.97,232.35 L503.72,232.21 L504.48,232.07 L505.24,231.94 L505.99,231.80 L506.75,231.67 L507.51,231.54 L508.26,231.41 L509.02,231.28 L509.78,231.15 L510.53,231.02 L511.29,230.90 L512.05,230.77 L512.80,230.65 L513.56,230.53 L514.32,230.41 L515.07,230.29 L515.83,230.17 L516.59,230.05 L517.34,229.94 L518.10,229.82 L518.86,229.71 L519.61,229.59 L520.37,229.48 L521.13,229.37 L521.88,229.26 L522.64,229.15 L523.40,229.05 L524.15,228.94 L524.91,228.83 L525.67,228.73 L526.42,228.63 L527.18,228.52 L527.93,228.42 L528.69,228.32 L529.45,228.22 L530.20,228.12 L530.96,228.02 L531.72,227.93 L532.47,227.83 L533.23,227.74 L533.99,227.64 L534.74,227.55 L535.50,227.45 L536.26,227.36 L537.01,227.27 L537.77,227.18 L538.53,227.09 L539.28,227.00 L540.04,226.91 L540.80,226.82 L541.55,226.74 L542.31,226.65 L543.07,226.56 L543.82,226.48 L544.58,226.40 L545.34,226.31 L546.09,226.23 L546.85,226.15 L547.61,226.07 L548.36,225.98 L549.12,225.90 L549.88,225.82 L550.63,225.75 L551.39,225.67 L552.15,225.59 L552.90,225.51 L553.66,225.44 L554.42,225.36 L555.17,225.28 L555.93,225.21 L556.69,225.14 L557.44,225.06 L558.20,224.99 L558.96,224.92 L559.71,224.84 L560.47,224.77 L561.23,224.70 L561.98,224.63 L562.74,224.56 L563.50,224.49 L564.25,224.42 L565.01,224.35 L565.77,224.29 L566.52,224.22 L567.28,224.15 L568.04,224.08 L568.79,224.02 L569.55,223.95 L570.31,223.89 L571.06,223.82 L571.82,223.76 L572.58,223.70 L573.33,223.63 L574.09,223.57 L574.85,223.51 L575.60,223.44 L576.36,223.38 L577.12,223.32 L577.87,223.26 L578.63,223.20 L579.39,223.14 L580.14,223.08 L580.90,223.02 L581.66,222.96 L582.41,222.91 L583.17,222.85 L583.93,222.79 L584.68,222.73 L585.44,222.68 L586.20,222.62 L586.95,222.56 L587.71,222.51 L588.47,222.45 L589.22,222.40 L589.98,222.34 L590.73,222.29 L591.49,222.23 L592.25,222.18 L593.00,222.13 L593.76,222.07 L594.52,222.02 L595.27,221.97 L596.03,221.92 L596.79,221.87 L597.54,221.81 L598.30,221.76 L599.06,221.71 L599.81,221.66 L600.57,221.61 L601.33,221.56 L602.08,221.51 L602.84,221.46 L603.60,221.41 L604.35,221.37 L605.11,221.32 L605.87,221.27 L606.62,221.22 L607.38,221.17 L608.14,221.13 L608.89,221.08 L609.65,221.03 L610.41,220.99 L611.16,220.94 L611.92,220.89 L612.68,220.85 L613.43,220.80 L614.19,220.76 L614.95,220.71 L615.70,220.67 L616.46,220.62 L617.22,220.58 L617.97,220.54 L618.73,220.49 L619.49,220.45 L620.24,220.41 L621.00,220.36" stroke="#000" stroke-width="1.70"/></g>
<g clip-path="url(#ci)" fill="none" stroke-linejoin="round"><path d="M338.40,168.44 L339.82,168.45 L341.24,168.45 L342.66,168.45 L344.08,168.45 L345.50,168.46 L346.92,168.46 L348.34,168.46 L349.76,168.47 L351.18,168.47 L352.60,168.47 L354.02,168.48 L355.44,168.48 L356.86,168.49 L358.28,168.49 L359.70,168.50 L361.12,168.50 L362.54,168.51 L363.96,168.51 L365.38,168.52 L366.80,168.52 L368.22,168.53 L369.64,168.54 L371.06,168.54 L372.48,168.55 L373.90,168.56 L375.32,168.57 L376.74,168.58 L378.16,168.58 L379.58,168.59 L381.00,168.60 L382.42,168.61 L383.84,168.62 L385.26,168.63 L386.68,168.64 L388.10,168.65 L389.52,168.66 L390.94,168.68 L392.36,168.69 L393.78,168.70 L395.20,168.71 L396.62,168.73 L398.04,168.74 L399.46,168.75 L400.88,168.77 L402.30,168.78 L403.72,168.80 L405.14,168.81 L406.56,168.83 L407.98,168.84 L409.41,168.86 L410.83,168.88 L412.25,168.90 L413.67,168.91 L415.09,168.93 L416.51,168.95 L417.93,168.97 L419.35,168.99 L420.77,169.01 L422.19,169.03 L423.61,169.05 L425.03,169.08 L426.45,169.10 L427.87,169.12 L429.29,169.14 L430.71,169.17 L432.13,169.19 L433.55,169.22 L434.97,169.24 L436.39,169.27 L437.81,169.29 L439.23,169.32 L440.65,169.35 L442.07,169.38 L443.49,169.41 L444.91,169.44 L446.33,169.46 L447.75,169.50 L449.17,169.53 L450.59,169.56 L452.01,169.59 L453.43,169.62 L454.85,169.65 L456.27,169.69 L457.69,169.72 L459.11,169.76 L460.53,169.79 L461.95,169.83 L463.37,169.86 L464.79,169.90 L466.21,169.94 L467.63,169.98 L469.05,170.02 L470.47,170.06 L471.89,170.09 L473.31,170.14 L474.73,170.18 L476.15,170.22 L477.57,170.26 L478.99,170.30 L480.41,170.34 L481.83,170.39 L483.25,170.43 L484.67,170.47 L486.09,170.52 L487.51,170.56 L488.93,170.61 L490.35,170.65 L491.77,170.70 L493.19,170.75 L494.61,170.79 L496.03,170.84 L497.45,170.89 L498.87,170.93 L500.29,170.98 L501.71,171.03 L503.13,171.08 L504.55,171.13 L505.97,171.18 L507.39,171.22 L508.81,171.27 L510.23,171.32 L511.65,171.37 L513.07,171.42 L514.49,171.47 L515.91,171.52 L517.33,171.58 L518.75,171.63 L520.17,171.68 L521.59,171.73 L523.01,171.78 L524.43,171.84 L525.85,171.89 L527.27,171.95 L528.69,172.00 L530.11,172.06 L531.53,172.11 L532.95,172.17 L534.37,172.23 L535.79,172.29 L537.21,172.35 L538.63,172.40 L540.05,172.47 L541.47,172.53 L542.89,172.59 L544.31,172.65 L545.73,172.72 L547.15,172.78 L548.57,172.85 L549.99,172.91 L551.42,172.98 L552.84,173.05 L554.26,173.12 L555.68,173.19 L557.10,173.26 L558.52,173.33 L559.94,173.41 L561.36,173.48 L562.78,173.56 L564.20,173.64 L565.62,173.72 L567.04,173.80 L568.46,173.88 L569.88,173.96 L571.30,174.05 L572.72,174.13 L574.14,174.22 L575.56,174.31 L576.98,174.40 L578.40,174.49 L579.82,174.58 L581.24,174.67 L582.66,174.77 L584.08,174.86 L585.50,174.96 L586.92,175.06 L588.34,175.16 L589.76,175.26 L591.18,175.36 L592.60,175.46 L594.02,175.56 L595.44,175.67 L596.86,175.77 L598.28,175.87 L599.70,175.98 L601.12,176.09 L602.54,176.19 L603.96,176.30 L605.38,176.41 L606.80,176.51 L608.22,176.62 L609.64,176.73 L611.06,176.84 L612.48,176.95 L613.90,177.06 L615.32,177.17 L616.74,177.27 L618.16,177.38 L619.58,177.49 L621.00,177.60" stroke="#b876fb" stroke-width="1.70"/></g>
<path d="M338.40,164.74 L335.00,170.34 L341.80,170.34 Z" fill="none" stroke="#b876fb" stroke-width="1.5" stroke-linejoin="miter"/>
<path d="M339.72,164.75 L336.32,170.35 L343.12,170.35 Z" fill="none" stroke="#b876fb" stroke-width="1.5" stroke-linejoin="miter"/>
<path d="M341.51,164.75 L338.11,170.35 L344.91,170.35 Z" fill="none" stroke="#b876fb" stroke-width="1.5" stroke-linejoin="miter"/>
<path d="M344.33,164.75 L340.93,170.35 L347.73,170.35 Z" fill="none" stroke="#b876fb" stroke-width="1.5" stroke-linejoin="miter"/>
<path d="M348.39,164.76 L344.99,170.36 L351.79,170.36 Z" fill="none" stroke="#b876fb" stroke-width="1.5" stroke-linejoin="miter"/>
<path d="M354.51,164.78 L351.11,170.38 L357.91,170.38 Z" fill="none" stroke="#b876fb" stroke-width="1.5" stroke-linejoin="miter"/>
<path d="M362.37,164.81 L358.97,170.41 L365.77,170.41 Z" fill="none" stroke="#b876fb" stroke-width="1.5" stroke-linejoin="miter"/>
<path d="M373.25,164.86 L369.85,170.46 L376.65,170.46 Z" fill="none" stroke="#b876fb" stroke-width="1.5" stroke-linejoin="miter"/>
<path d="M387.62,164.95 L384.22,170.55 L391.02,170.55 Z" fill="none" stroke="#b876fb" stroke-width="1.5" stroke-linejoin="miter"/>
<path d="M405.89,165.12 L402.49,170.72 L409.29,170.72 Z" fill="none" stroke="#b876fb" stroke-width="1.5" stroke-linejoin="miter"/>
<path d="M430.43,165.46 L427.03,171.06 L433.83,171.06 Z" fill="none" stroke="#b876fb" stroke-width="1.5" stroke-linejoin="miter"/>
<path d="M463.12,166.16 L459.72,171.76 L466.52,171.76 Z" fill="none" stroke="#b876fb" stroke-width="1.5" stroke-linejoin="miter"/>
<path d="M509.00,167.58 L505.60,173.18 L512.40,173.18 Z" fill="none" stroke="#b876fb" stroke-width="1.5" stroke-linejoin="miter"/>
<path d="M574.37,170.53 L570.97,176.13 L577.77,176.13 Z" fill="none" stroke="#b876fb" stroke-width="1.5" stroke-linejoin="miter"/>
<g clip-path="url(#ci)" fill="none" stroke-linejoin="round"><path d="M340.98,2066.85 L341.02,2037.86 L341.06,2009.32 L341.10,1981.22 L341.14,1953.56 L341.19,1926.33 L341.23,1899.52 L341.27,1873.12 L341.32,1847.13 L341.37,1821.54 L341.41,1796.35 L341.46,1771.55 L341.51,1747.13 L341.56,1723.09 L341.61,1699.42 L341.66,1676.11 L341.71,1653.17 L341.76,1630.58 L341.81,1608.34 L341.87,1586.44 L341.92,1564.89 L341.98,1543.66 L342.04,1522.76 L342.09,1502.19 L342.15,1481.93 L342.21,1461.99 L342.27,1442.35 L342.33,1423.01 L342.39,1403.98 L342.46,1385.24 L342.52,1366.78 L342.58,1348.62 L342.65,1330.73 L342.72,1313.11 L342.79,1295.77 L342.86,1278.70 L342.93,1261.89 L343.00,1245.34 L343.07,1229.04 L343.14,1212.99 L343.22,1197.19 L343.29,1181.63 L343.37,1166.32 L343.45,1151.24 L343.53,1136.39 L343.61,1121.76 L343.69,1107.37 L343.78,1093.19 L343.86,1079.23 L343.95,1065.49 L344.03,1051.96 L344.12,1038.63 L344.21,1025.51 L344.30,1012.59 L344.40,999.87 L344.49,987.34 L344.59,975.01 L344.69,962.86 L344.78,950.90 L344.89,939.13 L344.99,927.53 L345.09,916.11 L345.20,904.87 L345.30,893.80 L345.41,882.89 L345.52,872.16 L345.64,861.58 L345.75,851.17 L345.87,840.92 L345.98,830.82 L346.10,820.88 L346.23,811.09 L346.35,801.45 L346.47,791.95 L346.60,782.60 L346.73,773.39 L346.86,764.32 L347.00,755.39 L347.13,746.60 L347.27,737.94 L347.41,729.41 L347.55,721.01 L347.70,712.73 L347.84,704.58 L347.99,696.56 L348.14,688.66 L348.30,680.87 L348.45,673.21 L348.61,665.66 L348.77,658.22 L348.93,650.90 L349.10,643.68 L349.27,636.58 L349.44,629.58 L349.62,622.69 L349.79,615.90 L349.97,609.21 L350.15,602.63 L350.34,596.14 L350.53,589.75 L350.72,583.46 L350.91,577.26 L351.11,571.15 L351.31,565.14 L351.52,559.21 L351.72,553.38 L351.93,547.63 L352.15,541.96 L352.36,536.39 L352.58,530.89 L352.81,525.48 L353.03,520.14 L353.26,514.89 L353.50,509.72 L353.74,504.62 L353.98,499.60 L354.22,494.65 L354.47,489.78 L354.73,484.97 L354.98,480.24 L355.25,475.58 L355.51,470.99 L355.78,466.47 L356.06,462.01 L356.33,457.62 L356.62,453.30 L356.90,449.04 L357.20,444.84 L357.49,440.70 L357.79,436.63 L358.10,432.61 L358.41,428.66 L358.73,424.76 L359.05,420.92 L359.37,417.13 L359.70,413.41 L360.04,409.73 L360.38,406.11 L360.73,402.55 L361.08,399.04 L361.44,395.57 L361.80,392.16 L362.17,388.80 L362.54,385.49 L362.92,382.23 L363.31,379.01 L363.70,375.85 L364.10,372.72 L364.51,369.65 L364.92,366.62 L365.34,363.63 L365.76,360.69 L366.20,357.79 L366.63,354.94 L367.08,352.12 L367.53,349.35 L367.99,346.62 L368.46,343.93 L368.93,341.27 L369.41,338.66 L369.90,336.09 L370.40,333.55 L370.90,331.05 L371.42,328.59 L371.94,326.16 L372.47,323.77 L373.00,321.41 L373.55,319.09 L374.10,316.81 L374.67,314.55 L375.24,312.34 L375.82,310.15 L376.41,307.99 L377.01,305.87 L377.62,303.78 L378.24,301.72 L378.86,299.69 L379.50,297.69 L380.15,295.72 L380.81,293.79 L381.48,291.87 L382.16,289.99 L382.85,288.14 L383.55,286.31 L384.26,284.51 L384.98,282.74 L385.72,281.00 L386.46,279.28 L387.22,277.58 L387.99,275.92 L388.78,274.27 L389.57,272.66 L390.38,271.06 L391.20,269.50 L392.03,267.95 L392.87,266.43 L393.73,264.93 L394.61,263.46 L395.49,262.00 L396.39,260.57 L397.31,259.17 L398.24,257.78 L399.18,256.41 L400.14,255.07 L401.11,253.75 L402.10,252.44 L403.11,251.16 L404.13,249.90 L405.16,248.66 L406.22,247.43 L407.29,246.23 L408.37,245.05 L409.48,243.88 L410.60,242.73 L411.74,241.60 L412.89,240.49 L414.07,239.40 L415.26,238.32 L416.47,237.26 L417.70,236.22 L418.95,235.20 L420.23,234.19 L421.52,233.20 L422.83,232.22 L424.16,231.26 L425.51,230.32 L426.88,229.39 L428.28,228.48 L429.70,227.58 L431.14,226.70 L432.60,225.83 L433.36,225.40 L434.11,224.96 L434.87,224.54 L435.63,224.13 L436.38,223.72 L437.14,223.31 L437.90,222.92 L438.65,222.53 L439.41,222.14 L440.17,221.76 L440.92,221.39 L441.68,221.03 L442.44,220.67 L443.19,220.31 L443.95,219.96 L444.71,219.62 L445.46,219.28 L446.22,218.95 L446.98,218.62 L447.73,218.29 L448.49,217.97 L449.25,217.66 L450.00,217.35 L450.76,217.05 L451.52,216.74 L452.27,216.45 L453.03,216.16 L453.79,215.87 L454.54,215.59 L455.30,215.31 L456.06,215.03 L456.81,214.76 L457.57,214.49 L458.33,214.23 L459.08,213.97 L459.84,213.71 L460.60,213.46 L461.35,213.21 L462.11,212.96 L462.87,212.72 L463.62,212.48 L464.38,212.24 L465.13,212.01 L465.89,211.78 L466.65,211.55 L467.40,211.33 L468.16,211.11 L468.92,210.89 L469.67,210.68 L470.43,210.46 L471.19,210.26 L471.94,210.05 L472.70,209.85 L473.46,209.64 L474.21,209.45 L474.97,209.25 L475.73,209.06 L476.48,208.87 L477.24,208.68 L478.00,208.49 L478.75,208.31 L479.51,208.13 L480.27,207.95 L481.02,207.77 L481.78,207.60 L482.54,207.42 L483.29,207.25 L484.05,207.09 L484.81,206.92 L485.56,206.76 L486.32,206.59 L487.08,206.44 L487.83,206.28 L488.59,206.12 L489.35,205.97 L490.10,205.82 L490.86,205.67 L491.62,205.52 L492.37,205.37 L493.13,205.23 L493.89,205.08 L494.64,204.94 L495.40,204.80 L496.16,204.66 L496.91,204.53 L497.67,204.39 L498.43,204.26 L499.18,204.13 L499.94,204.00 L500.70,203.87 L501.45,203.74 L502.21,203.62 L502.97,203.49 L503.72,203.37 L504.48,203.25 L505.24,203.13 L505.99,203.01 L506.75,202.89 L507.51,202.78 L508.26,202.67 L509.02,202.55 L509.78,202.44 L510.53,202.33 L511.29,202.22 L512.05,202.11 L512.80,202.01 L513.56,201.90 L514.32,201.80 L515.07,201.69 L515.83,201.59 L516.59,201.49 L517.34,201.39 L518.10,201.30 L518.86,201.20 L519.61,201.10 L520.37,201.01 L521.13,200.91 L521.88,200.82 L522.64,200.73 L523.40,200.64 L524.15,200.55 L524.91,200.46 L525.67,200.38 L526.42,200.29 L527.18,200.21 L527.93,200.12 L528.69,200.04 L529.45,199.96 L530.20,199.88 L530.96,199.80 L531.72,199.72 L532.47,199.64 L533.23,199.57 L533.99,199.49 L534.74,199.42 L535.50,199.34 L536.26,199.27 L537.01,199.20 L537.77,199.13 L538.53,199.06 L539.28,198.99 L540.04,198.93 L540.80,198.86 L541.55,198.79 L542.31,198.73 L543.07,198.67 L543.82,198.60 L544.58,198.54 L545.34,198.48 L546.09,198.42 L546.85,198.36 L547.61,198.30 L548.36,198.25 L549.12,198.19 L549.88,198.14 L550.63,198.08 L551.39,198.03 L552.15,197.98 L552.90,197.93 L553.66,197.88 L554.42,197.83 L555.17,197.78 L555.93,197.73 L556.69,197.68 L557.44,197.64 L558.20,197.59 L558.96,197.55 L559.71,197.51 L560.47,197.46 L561.23,197.42 L561.98,197.38 L562.74,197.34 L563.50,197.30 L564.25,197.26 L565.01,197.23 L565.77,197.19 L566.52,197.16 L567.28,197.12 L568.04,197.09 L568.79,197.06 L569.55,197.02 L570.31,196.99 L571.06,196.96 L571.82,196.93 L572.58,196.91 L573.33,196.88 L574.09,196.85 L574.85,196.83 L575.60,196.80 L576.36,196.78 L577.12,196.76 L577.87,196.73 L578.63,196.71 L579.39,196.69 L580.14,196.67 L580.90,196.65 L581.66,196.63 L582.41,196.62 L583.17,196.60 L583.93,196.58 L584.68,196.57 L585.44,196.55 L586.20,196.54 L586.95,196.53 L587.71,196.51 L588.47,196.50 L589.22,196.49 L589.98,196.48 L590.73,196.47 L591.49,196.46 L592.25,196.45 L593.00,196.44 L593.76,196.44 L594.52,196.43 L595.27,196.42 L596.03,196.42 L596.79,196.41 L597.54,196.41 L598.30,196.40 L599.06,196.40 L599.81,196.40 L600.57,196.40 L601.33,196.39 L602.08,196.39 L602.84,196.39 L603.60,196.39 L604.35,196.39 L605.11,196.39 L605.87,196.39 L606.62,196.39 L607.38,196.39 L608.14,196.40 L608.89,196.40 L609.65,196.40 L610.41,196.40 L611.16,196.41 L611.92,196.41 L612.68,196.42 L613.43,196.42 L614.19,196.42 L614.95,196.43 L615.70,196.44 L616.46,196.44 L617.22,196.45 L617.97,196.45 L618.73,196.46 L619.49,196.47 L620.24,196.47 L621.00,196.48" stroke="#00ffff" stroke-width="1.70"/></g>
<g clip-path="url(#ci)" fill="none" stroke-linejoin="round"><path d="M343.69,2068.71 L343.78,2035.59 L343.86,2003.00 L343.95,1970.94 L344.03,1939.40 L344.12,1908.37 L344.21,1877.84 L344.30,1847.81 L344.40,1818.27 L344.49,1789.21 L344.59,1760.62 L344.69,1732.50 L344.78,1704.84 L344.89,1677.63 L344.99,1650.87 L345.09,1624.54 L345.20,1598.65 L345.30,1573.18 L345.41,1548.13 L345.52,1523.49 L345.64,1499.26 L345.75,1475.43 L345.87,1452.00 L345.98,1428.95 L346.10,1406.28 L346.23,1383.99 L346.35,1362.07 L346.47,1340.52 L346.60,1319.33 L346.73,1298.49 L346.86,1277.99 L347.00,1257.85 L347.13,1238.03 L347.27,1218.56 L347.41,1199.41 L347.55,1180.58 L347.70,1162.07 L347.84,1143.87 L347.99,1125.99 L348.14,1108.40 L348.30,1091.12 L348.45,1074.13 L348.61,1057.43 L348.77,1041.01 L348.93,1024.87 L349.10,1009.02 L349.27,993.43 L349.44,978.11 L349.62,963.06 L349.79,948.27 L349.97,933.73 L350.15,919.44 L350.34,905.41 L350.53,891.61 L350.72,878.06 L350.91,864.74 L351.11,851.66 L351.31,838.81 L351.52,826.18 L351.72,813.77 L351.93,801.59 L352.15,789.62 L352.36,777.86 L352.58,766.30 L352.81,754.96 L353.03,743.82 L353.26,732.87 L353.50,722.12 L353.74,711.56 L353.98,701.20 L354.22,691.02 L354.47,681.02 L354.73,671.20 L354.98,661.56 L355.25,652.10 L355.51,642.80 L355.78,633.68 L356.06,624.72 L356.33,615.93 L356.62,607.29 L356.90,598.82 L357.20,590.50 L357.49,582.33 L357.79,574.31 L358.10,566.45 L358.41,558.72 L358.73,551.14 L359.05,543.70 L359.37,536.40 L359.70,529.24 L360.04,522.21 L360.38,515.31 L360.73,508.54 L361.08,501.89 L361.44,495.37 L361.80,488.98 L362.17,482.70 L362.54,476.54 L362.92,470.50 L363.31,464.58 L363.70,458.76 L364.10,453.06 L364.51,447.46 L364.92,441.97 L365.34,436.59 L365.76,431.31 L366.20,426.13 L366.63,421.04 L367.08,416.06 L367.53,411.17 L367.99,406.38 L368.46,401.68 L368.93,397.06 L369.41,392.54 L369.90,388.11 L370.40,383.76 L370.90,379.49 L371.42,375.31 L371.94,371.21 L372.47,367.19 L373.00,363.25 L373.55,359.39 L374.10,355.60 L374.67,351.88 L375.24,348.24 L375.82,344.67 L376.41,341.17 L377.01,337.74 L377.62,334.38 L378.24,331.08 L378.86,327.85 L379.50,324.68 L380.15,321.58 L380.81,318.54 L381.48,315.56 L382.16,312.64 L382.85,309.77 L383.55,306.97 L384.26,304.22 L384.98,301.53 L385.72,298.89 L386.46,296.31 L387.22,293.78 L387.99,291.30 L388.78,288.87 L389.57,286.49 L390.38,284.17 L391.20,281.89 L392.03,279.65 L392.87,277.47 L393.73,275.33 L394.61,273.23 L395.49,271.18 L396.39,269.17 L397.31,267.21 L398.24,265.28 L399.18,263.40 L400.14,261.56 L401.11,259.75 L402.10,257.99 L403.11,256.26 L404.13,254.57 L405.16,252.92 L406.22,251.30 L407.29,249.71 L408.37,248.16 L409.48,246.65 L410.60,245.16 L411.74,243.71 L412.89,242.29 L414.07,240.90 L415.26,239.53 L416.47,238.20 L417.70,236.89 L418.95,235.61 L420.23,234.36 L421.52,233.13 L422.83,231.93 L424.16,230.75 L425.51,229.60 L426.88,228.46 L428.28,227.35 L429.70,226.27 L431.14,225.20 L432.60,224.16 L433.36,223.63 L434.11,223.11 L434.87,222.61 L435.63,222.11 L436.38,221.62 L437.14,221.14 L437.90,220.67 L438.65,220.21 L439.41,219.75 L440.17,219.30 L440.92,218.86 L441.68,218.43 L442.44,218.01 L443.19,217.59 L443.95,217.18 L444.71,216.78 L445.46,216.39 L446.22,216.00 L446.98,215.62 L447.73,215.25 L448.49,214.88 L449.25,214.52 L450.00,214.16 L450.76,213.82 L451.52,213.47 L452.27,213.14 L453.03,212.81 L453.79,212.48 L454.54,212.16 L455.30,211.85 L456.06,211.54 L456.81,211.24 L457.07,211.14 L457.08,211.14 L457.09,211.14 L457.57,211.14 L458.33,211.14 L459.08,211.14 L459.84,211.14 L460.60,211.14 L461.35,211.14 L462.11,211.14 L462.87,211.14 L463.62,211.14 L464.38,211.14 L465.13,211.14 L465.89,211.14 L466.65,211.14 L467.40,211.14 L468.16,211.14 L468.92,211.14 L469.67,211.14 L470.43,211.14 L471.19,211.14 L471.94,211.14 L472.70,211.14 L473.46,211.14 L474.21,211.14 L474.97,211.14 L475.73,211.14 L476.48,211.14 L477.24,211.14 L478.00,211.14 L478.75,211.14 L479.51,211.14 L480.27,211.14 L481.02,211.14 L481.78,211.14 L482.54,211.14 L483.29,211.14 L484.05,211.14 L484.81,211.14 L485.56,211.14 L486.32,211.14 L487.08,211.14 L487.83,211.14 L488.59,211.14 L489.35,211.14 L490.10,211.14 L490.86,211.14 L491.62,211.14 L492.37,211.14 L493.13,211.14 L493.89,211.14 L494.64,211.14 L495.40,211.14 L496.16,211.14 L496.91,211.14 L497.67,211.14 L498.43,211.14 L499.18,211.14 L499.94,211.14 L500.70,211.14 L501.45,211.14 L502.21,211.14 L502.97,211.14 L503.72,211.14 L504.48,211.14 L505.24,211.14 L505.99,211.14 L506.75,211.14 L507.51,211.14 L508.26,211.14 L509.02,211.14 L509.78,211.14 L510.53,211.14 L511.29,211.14 L512.05,211.14 L512.80,211.14 L513.56,211.14 L514.32,211.14 L515.07,211.14 L515.83,211.14 L516.59,211.14 L517.34,211.14 L518.10,211.14 L518.86,211.14 L519.61,211.14 L520.37,211.14 L521.13,211.14 L521.88,211.14 L522.64,211.14 L523.40,211.14 L524.15,211.14 L524.91,211.14 L525.67,211.14 L526.42,211.14 L527.18,211.14 L527.93,211.14 L528.69,211.14 L529.45,211.14 L530.20,211.14 L530.96,211.14 L531.72,211.14 L532.47,211.14 L533.23,211.14 L533.99,211.14 L534.74,211.14 L535.50,211.14 L536.26,211.14 L537.01,211.14 L537.77,211.14 L538.53,211.14 L539.28,211.14 L540.04,211.14 L540.80,211.14 L541.55,211.14 L542.31,211.14 L543.07,211.14 L543.82,211.14 L544.58,211.14 L545.34,211.14 L546.09,211.14 L546.85,211.14 L547.61,211.14 L548.36,211.14 L549.12,211.14 L549.88,211.14 L550.63,211.14 L551.39,211.14 L552.15,211.14 L552.90,211.14 L553.66,211.14 L554.42,211.14 L555.17,211.14 L555.93,211.14 L556.69,211.14 L557.44,211.14 L558.20,211.14 L558.96,211.14 L559.71,211.14 L560.47,211.14 L561.23,211.14 L561.98,211.14 L562.74,211.14 L563.50,211.14 L564.25,211.14 L565.01,211.14 L565.77,211.14 L566.52,211.14 L567.28,211.14 L568.04,211.14 L568.79,211.14 L569.55,211.14 L570.31,211.14 L571.06,211.14 L571.82,211.14 L572.58,211.14 L573.33,211.14 L574.09,211.14 L574.85,211.14 L575.60,211.14 L576.36,211.14 L577.12,211.14 L577.87,211.14 L578.63,211.14 L579.39,211.14 L580.14,211.14 L580.90,211.14 L581.66,211.14 L582.41,211.14 L583.17,211.14 L583.93,211.14 L584.68,211.14 L585.44,211.14 L586.20,211.14 L586.95,211.14 L587.71,211.14 L588.47,211.14 L589.22,211.14 L589.98,211.14 L590.73,211.14 L591.49,211.14 L592.25,211.14 L593.00,211.14 L593.76,211.14 L594.52,211.14 L595.27,211.14 L596.03,211.14 L596.79,211.14 L597.54,211.14 L598.30,211.14 L599.06,211.14 L599.81,211.14 L600.57,211.14 L601.33,211.14 L602.08,211.14 L602.84,211.14 L603.60,211.14 L604.35,211.14 L605.11,211.14 L605.87,211.14 L606.62,211.14 L607.38,211.14 L608.14,211.14 L608.89,211.14 L609.65,211.14 L610.41,211.14 L611.16,211.14 L611.92,211.14 L612.68,211.14 L613.43,211.14 L614.19,211.14 L614.95,211.14 L615.70,211.14 L616.46,211.14 L617.22,211.14 L617.97,211.14 L618.73,211.14 L619.49,211.14 L620.24,211.14 L621.00,211.14" stroke="#ff0000" stroke-width="1.70"/></g>
<circle cx="387.62" cy="292.49" r="3.60" fill="#ff0000"/>
<circle cx="405.89" cy="251.79" r="3.60" fill="#ff0000"/>
<circle cx="430.43" cy="225.72" r="3.60" fill="#ff0000"/>
<circle cx="463.12" cy="211.14" r="3.60" fill="#ff0000"/>
<circle cx="509.00" cy="211.14" r="3.60" fill="#ff0000"/>
<circle cx="574.37" cy="211.14" r="3.60" fill="#ff0000"/>
<g clip-path="url(#ci)" fill="none" stroke-linejoin="round"><path d="M399.15,298.60 L399.25,298.39 L399.36,298.18 L399.47,297.98 L399.57,297.77 L399.68,297.57 L399.79,297.36 L399.90,297.16 L400.00,296.95 L400.11,296.75 L400.22,296.54 L400.33,296.34 L400.44,296.14 L400.55,295.94 L400.66,295.74 L400.77,295.53 L400.88,295.33 L400.98,295.13 L401.09,294.94 L401.20,294.74 L401.32,294.54 L401.43,294.34 L401.54,294.14 L401.65,293.95 L401.76,293.75 L401.87,293.55 L401.98,293.36 L402.09,293.16 L402.20,292.97 L402.32,292.78 L402.43,292.58 L402.54,292.39 L402.65,292.20 L402.77,292.00 L402.88,291.81 L402.99,291.62 L403.11,291.43 L403.22,291.24 L403.33,291.05 L403.45,290.86 L403.56,290.67 L403.68,290.49 L403.79,290.30 L403.91,290.11 L404.02,289.92 L404.14,289.74 L404.25,289.55 L404.37,289.37 L404.48,289.18 L404.60,289.00 L404.72,288.81 L404.83,288.63 L404.95,288.45 L405.07,288.26 L405.18,288.08 L405.30,287.90 L405.42,287.72 L405.54,287.54 L405.65,287.36 L405.77,287.18 L405.89,287.00 L406.01,286.82 L406.13,286.64 L406.25,286.46 L406.37,286.29 L406.49,286.11 L406.60,285.93 L406.72,285.76 L406.84,285.58 L406.96,285.40 L407.09,285.23 L407.21,285.06 L407.33,284.88 L407.45,284.71 L407.57,284.53 L407.69,284.36 L407.81,284.19 L407.93,284.02 L408.06,283.85 L408.18,283.68 L408.30,283.51 L408.42,283.34 L408.55,283.17 L408.67,283.00 L408.79,282.83 L408.92,282.66 L409.04,282.49 L409.17,282.33 L409.29,282.16 L409.41,281.99 L409.54,281.83 L409.66,281.66 L409.79,281.50 L409.91,281.33 L410.04,281.17 L410.17,281.00 L410.29,280.84 L410.42,280.68 L410.54,280.52 L410.67,280.35 L410.80,280.19 L410.93,280.03 L411.05,279.87 L411.18,279.71 L411.31,279.55 L411.44,279.39 L411.56,279.23 L411.69,279.07 L411.82,278.92 L411.95,278.76 L412.08,278.60 L412.21,278.45 L412.34,278.29 L412.47,278.13 L412.60,277.98 L412.73,277.83 L412.86,277.67 L412.99,277.52 L413.12,277.36 L413.25,277.21 L413.38,277.06 L413.52,276.91 L413.65,276.76 L413.78,276.61 L413.91,276.46 L414.05,276.31 L414.18,276.16 L414.31,276.01 L414.44,275.86 L414.58,275.71 L414.71,275.56 L414.85,275.42 L414.98,275.27 L415.11,275.13 L415.25,274.98 L415.38,274.84 L415.52,274.69 L415.66,274.55 L415.79,274.40 L415.93,274.26 L416.06,274.12 L416.20,273.98 L416.34,273.84 L416.47,273.70 L416.61,273.56 L416.75,273.42 L416.89,273.28 L417.02,273.14 L417.16,273.00 L417.30,272.86 L417.44,272.73 L417.58,272.59 L417.72,272.46 L417.86,272.32 L417.99,272.19 L418.13,272.05 L418.27,271.92 L418.41,271.79 L418.56,271.65 L418.70,271.52 L418.84,271.39 L418.98,271.26 L419.12,271.13 L419.26,271.00 L419.40,270.87 L419.55,270.74 L419.69,270.61 L419.83,270.48 L419.97,270.36 L420.12,270.23 L420.26,270.10 L420.41,269.98 L420.55,269.85 L420.69,269.73 L420.84,269.61 L420.98,269.48 L421.13,269.36 L421.27,269.24 L421.42,269.11 L421.56,268.99 L421.71,268.87 L421.86,268.75 L422.00,268.63 L422.15,268.51 L422.30,268.39 L422.44,268.27 L422.59,268.15 L422.74,268.04 L422.89,267.92 L423.04,267.80 L423.19,267.68 L423.33,267.57 L423.48,267.45 L423.63,267.34 L423.78,267.22 L423.93,267.11 L424.08,266.99 L424.23,266.88 L424.38,266.76 L424.54,266.65 L424.69,266.54 L424.84,266.42 L424.99,266.31 L425.14,266.20 L425.29,266.09 L425.45,265.98 L425.60,265.87 L425.75,265.76 L425.91,265.64 L426.06,265.53 L426.21,265.43 L426.37,265.32 L426.52,265.21 L426.68,265.10 L426.83,264.99 L426.99,264.88 L427.14,264.77 L427.30,264.67 L427.46,264.56 L427.61,264.45 L427.77,264.34 L427.93,264.24 L428.08,264.13 L428.24,264.03 L428.40,263.92 L428.56,263.81 L428.71,263.71 L428.87,263.60 L429.03,263.50 L429.19,263.39 L429.35,263.29 L429.51,263.19 L429.67,263.08 L429.83,262.98 L429.99,262.88 L430.15,262.77 L430.31,262.67 L430.48,262.57 L430.64,262.46 L430.80,262.36 L430.96,262.26 L431.12,262.16 L431.29,262.06 L431.45,261.95 L431.61,261.85 L431.78,261.75 L431.94,261.65 L432.11,261.55 L432.27,261.45 L432.43,261.35 L432.60,261.25 L433.36,260.80 L434.11,260.35 L434.87,259.91 L435.63,259.48 L436.38,259.06 L437.14,258.64 L437.90,258.23 L438.65,257.82 L439.41,257.42 L440.17,257.03 L440.92,256.64 L441.68,256.26 L442.44,255.89 L443.19,255.52 L443.95,255.15 L444.71,254.79 L445.46,254.44 L446.22,254.09 L446.98,253.74 L447.73,253.40 L448.49,253.07 L449.25,252.73 L450.00,252.41 L450.76,252.09 L451.52,251.77 L452.27,251.46 L453.03,251.15 L453.79,250.84 L454.54,250.54 L455.30,250.24 L456.06,249.95 L456.81,249.66 L457.57,249.37 L458.33,249.09 L459.08,248.81 L459.84,248.54 L460.60,248.26 L461.35,247.99 L462.11,247.73 L462.87,247.47 L463.62,247.21 L464.38,246.95 L465.13,246.70 L465.89,246.45 L466.65,246.20 L467.40,245.96 L468.16,245.72 L468.92,245.48 L469.67,245.24 L470.43,245.01 L471.19,244.78 L471.94,244.55 L472.70,244.33 L473.46,244.11 L474.21,243.89 L474.97,243.67 L475.73,243.45 L476.48,243.24 L477.24,243.03 L478.00,242.82 L478.75,242.61 L479.51,242.41 L480.27,242.21 L481.02,242.01 L481.78,241.81 L482.54,241.62 L483.29,241.42 L484.05,241.23 L484.81,241.04 L485.56,240.86 L486.32,240.67 L487.08,240.49 L487.83,240.30 L488.59,240.12 L489.35,239.95 L490.10,239.77 L490.86,239.60 L491.62,239.42 L492.37,239.25 L493.13,239.08 L493.89,238.91 L494.64,238.75 L495.40,238.58 L496.16,238.42 L496.91,238.26 L497.67,238.10 L498.43,237.94 L499.18,237.78 L499.94,237.63 L500.70,237.47 L501.45,237.32 L502.21,237.17 L502.97,237.02 L503.72,236.87 L504.48,236.73 L505.24,236.58 L505.99,236.44 L506.75,236.29 L507.51,236.15 L508.26,236.01 L509.02,235.87 L509.78,235.73 L510.53,235.60 L511.29,235.46 L512.05,235.33 L512.80,235.19 L513.56,235.06 L514.32,234.93 L515.07,234.80 L515.83,234.67 L516.59,234.54 L517.34,234.42 L518.10,234.29 L518.86,234.17 L519.61,234.04 L520.37,233.92 L521.13,233.80 L521.88,233.68 L522.64,233.56 L523.40,233.44 L524.15,233.32 L524.91,233.21 L525.67,233.09 L526.42,232.98 L527.18,232.86 L527.93,232.75 L528.69,232.64 L529.45,232.53 L530.20,232.42 L530.96,232.31 L531.72,232.20 L532.47,232.09 L533.23,231.99 L533.99,231.88 L534.74,231.77 L535.50,231.67 L536.26,231.57 L537.01,231.46 L537.77,231.36 L538.53,231.26 L539.28,231.16 L540.04,231.06 L540.80,230.96 L541.55,230.86 L542.31,230.77 L543.07,230.67 L543.82,230.57 L544.58,230.48 L545.34,230.38 L546.09,230.29 L546.85,230.20 L547.61,230.10 L548.36,230.01 L549.12,229.92 L549.88,229.83 L550.63,229.74 L551.39,229.65 L552.15,229.56 L552.90,229.47 L553.66,229.39 L554.42,229.30 L555.17,229.21 L555.93,229.13 L556.69,229.04 L557.44,228.96 L558.20,228.87 L558.96,228.79 L559.71,228.71 L560.47,228.63 L561.23,228.54 L561.98,228.46 L562.74,228.38 L563.50,228.30 L564.25,228.22 L565.01,228.14 L565.77,228.07 L566.52,227.99 L567.28,227.91 L568.04,227.83 L568.79,227.76 L569.55,227.68 L570.31,227.61 L571.06,227.53 L571.82,227.46 L572.58,227.38 L573.33,227.31 L574.09,227.24 L574.85,227.17 L575.60,227.09 L576.36,227.02 L577.12,226.95 L577.87,226.88 L578.63,226.81 L579.39,226.74 L580.14,226.67 L580.90,226.60 L581.66,226.53 L582.41,226.47 L583.17,226.40 L583.93,226.33 L584.68,226.26 L585.44,226.20 L586.20,226.13 L586.95,226.07 L587.71,226.00 L588.47,225.94 L589.22,225.87 L589.98,225.81 L590.73,225.74 L591.49,225.68 L592.25,225.62 L593.00,225.56 L593.76,225.49 L594.52,225.43 L595.27,225.37 L596.03,225.31 L596.79,225.25 L597.54,225.19 L598.30,225.13 L599.06,225.07 L599.81,225.01 L600.57,224.95 L601.33,224.89 L602.08,224.83 L602.84,224.78 L603.60,224.72 L604.35,224.66 L605.11,224.60 L605.87,224.55 L606.62,224.49 L607.38,224.44 L608.14,224.38 L608.89,224.32 L609.65,224.27 L610.41,224.22 L611.16,224.16 L611.92,224.11 L612.68,224.05 L613.43,224.00 L614.19,223.95 L614.95,223.89 L615.70,223.84 L616.46,223.79 L617.22,223.74 L617.97,223.68 L618.73,223.63 L619.49,223.58 L620.24,223.53 L621.00,223.48" stroke="#ffa500" stroke-width="1.70" stroke-dasharray="8.2 9.0 2.8 9.0"/></g>
<rect x="328.90" y="109.00" width="292.00" height="189.60" fill="none" stroke="#000" stroke-width="1.9"/>
<path d="M338.40,298.60 v-9 M338.40,109.00 v9 M432.60,298.60 v-9 M432.60,109.00 v9 M526.80,298.60 v-9 M526.80,109.00 v9 M328.90,128.73 h9 M620.90,128.73 h-9 M328.90,166.49 h9 M620.90,166.49 h-9 M328.90,204.25 h9 M620.90,204.25 h-9 M328.90,242.01 h9 M620.90,242.01 h-9 M328.90,279.77 h9 M620.90,279.77 h-9 M328.90,147.61 h4.5 M620.90,147.61 h-4.5 M328.90,185.37 h4.5 M620.90,185.37 h-4.5 M328.90,223.13 h4.5 M620.90,223.13 h-4.5 M328.90,260.89 h4.5 M620.90,260.89 h-4.5" stroke="#000" stroke-width="1" fill="none"/>
<text transform="translate(341.00,322.50) scale(0.985,1.078)" font-size="17.33" text-anchor="middle">0</text>
<text transform="translate(435.20,322.50) scale(0.985,1.078)" font-size="17.33" text-anchor="middle">1</text>
<text transform="translate(529.40,322.50) scale(0.985,1.078)" font-size="17.33" text-anchor="middle">2</text>
<text transform="translate(623.60,322.50) scale(0.985,1.078)" font-size="17.33" text-anchor="middle">3</text>
<text transform="translate(318.20,135.03) scale(0.985,1.078)" font-size="17.33" text-anchor="end">8</text>
<text transform="translate(318.20,172.79) scale(0.985,1.078)" font-size="17.33" text-anchor="end">4</text>
<text transform="translate(318.20,210.55) scale(0.985,1.078)" font-size="17.33" text-anchor="end">0</text>
<text transform="translate(318.20,248.31) scale(0.985,1.078)" font-size="17.33" text-anchor="end">-4</text>
<text transform="translate(318.20,286.07) scale(0.985,1.078)" font-size="17.33" text-anchor="end">-8</text>
</svg></body></html>
